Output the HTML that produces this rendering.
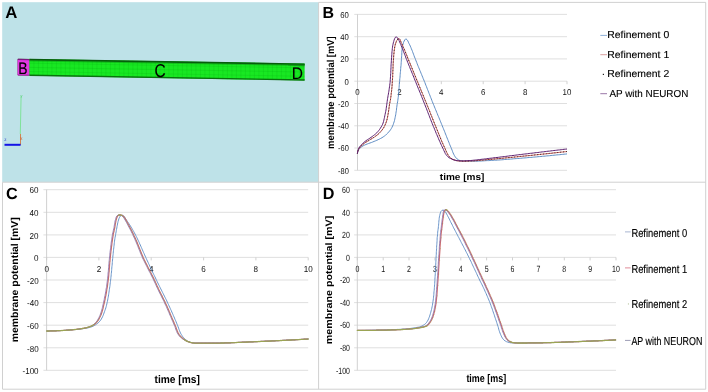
<!DOCTYPE html>
<html lang="en"><head><meta charset="utf-8"><title>Figure</title>
<style>html,body{margin:0;padding:0;background:#fff;overflow:hidden}svg{display:block}text{font-family:'Liberation Sans', Arial, sans-serif;text-rendering:geometricPrecision}</style></head><body>
<svg width="708" height="392" viewBox="0 0 708 392">
<rect x="0" y="0" width="708" height="392" fill="#fff"/>
<rect x="2.2" y="2.2" width="316.4" height="179.9" fill="#bee2e8"/>
<defs><linearGradient id="tg" x1="0" y1="0" x2="0" y2="1"><stop offset="0" stop-color="#0b5f10"/><stop offset="1" stop-color="#0b5f10" stop-opacity="0"/></linearGradient></defs>
<polygon points="17.3,59.7 18.2,58.8 304.6,63.6 304.6,80.5 18.2,75.5 17.3,74.6" fill="#18e822"/>
<polygon points="17.3,59.7 18.2,58.8 29.4,59.0 29.4,75.7 18.2,75.5 17.3,74.6" fill="#e438e4"/>
<path d="M29.4,59.0L29.4,75.7M33.9,59.1L33.9,75.8M38.4,59.2L38.4,75.9M42.9,59.2L42.9,75.9M47.4,59.3L47.4,76.0M51.9,59.4L51.9,76.1M56.4,59.5L56.4,76.2M60.9,59.5L60.9,76.3M65.4,59.6L65.4,76.3M69.9,59.7L69.9,76.4M74.4,59.8L74.4,76.5M78.9,59.8L78.9,76.6M83.4,59.9L83.4,76.7M87.9,60.0L87.9,76.7M92.4,60.1L92.4,76.8M96.9,60.1L96.9,76.9M101.4,60.2L101.4,77.0M105.9,60.3L105.9,77.0M110.4,60.4L110.4,77.1M114.9,60.4L114.9,77.2M119.4,60.5L119.4,77.3M123.9,60.6L123.9,77.4M128.4,60.7L128.4,77.4M132.9,60.7L132.9,77.5M137.4,60.8L137.4,77.6M141.9,60.9L141.9,77.7M146.4,61.0L146.4,77.7M150.9,61.0L150.9,77.8M155.4,61.1L155.4,77.9M159.9,61.2L159.9,78.0M164.4,61.3L164.4,78.1M168.9,61.3L168.9,78.1M173.4,61.4L173.4,78.2M177.9,61.5L177.9,78.3M182.4,61.6L182.4,78.4M186.9,61.6L186.9,78.5M191.4,61.7L191.4,78.5M195.9,61.8L195.9,78.6M200.4,61.9L200.4,78.7M204.9,61.9L204.9,78.8M209.4,62.0L209.4,78.8M213.9,62.1L213.9,78.9M218.4,62.2L218.4,79.0M222.9,62.2L222.9,79.1M227.4,62.3L227.4,79.2M231.9,62.4L231.9,79.2M236.4,62.5L236.4,79.3M240.9,62.5L240.9,79.4M245.4,62.6L245.4,79.5M249.9,62.7L249.9,79.5M254.4,62.8L254.4,79.6M258.9,62.8L258.9,79.7M263.4,62.9L263.4,79.8M267.9,63.0L267.9,79.9M272.4,63.1L272.4,79.9M276.9,63.1L276.9,80.0M281.4,63.2L281.4,80.1M285.9,63.3L285.9,80.2M290.4,63.4L290.4,80.3M294.9,63.4L294.9,80.3M299.4,63.5L299.4,80.4M303.9,63.6L303.9,80.5M29.4,63.2L304.6,67.8M29.4,67.4L304.6,72.0M29.4,71.5L304.6,76.3" stroke="#08a010" stroke-width="0.5" fill="none" opacity="0.35"/>
<path d="M29.4,59.6L304.6,64.2" stroke="#075c0c" stroke-width="1.6" fill="none" opacity="1"/>
<path d="M29.4,60.8L304.6,65.4" stroke="#0a8a12" stroke-width="1.2" fill="none" opacity="0.45"/>
<path d="M29.4,75.2L304.6,80.0" stroke="#086a0e" stroke-width="1.4" fill="none" opacity="0.95"/>
<path d="M288,63.7L304.6,64.0L304.6,66.6L288,65.5Z" fill="#0a7a12" opacity="0.55"/>
<path d="M17.8,59.4L29.4,59.6" stroke="#6a1470" stroke-width="1.3" fill="none" opacity="0.85"/>
<path d="M17.8,75.0L29.4,75.2" stroke="#8a208a" stroke-width="1.0" fill="none" opacity="0.8"/>
<text x="18.3" y="73.7" font-size="16.6" text-anchor="start" font-weight="normal" fill="#000" stroke="#000" stroke-width="0.15" textLength="9.3" lengthAdjust="spacingAndGlyphs" >B</text>
<text x="154.4" y="76.7" font-size="18.6" text-anchor="start" font-weight="normal" fill="#000" stroke="#000" stroke-width="0.12" textLength="11.2" lengthAdjust="spacingAndGlyphs" >C</text>
<text x="291.8" y="78.9" font-size="16.6" text-anchor="start" font-weight="normal" fill="#000" stroke="#000" stroke-width="0.12" textLength="11.2" lengthAdjust="spacingAndGlyphs" >D</text>
<line x1="21.1" y1="95.7" x2="20.3" y2="134" stroke="#7fe39a" stroke-width="1.0"/>
<line x1="20.5" y1="134" x2="20.5" y2="145" stroke="#d07a40" stroke-width="0.9"/>
<line x1="4.5" y1="144.8" x2="20.6" y2="144.8" stroke="#1414e6" stroke-width="2.0"/>
<text x="4.2" y="140.5" font-size="4.5" text-anchor="start" font-weight="normal" fill="#2030d0" >z</text>
<text x="20.0" y="140" font-size="5" text-anchor="start" font-weight="normal" fill="#d06030" >x</text>
<text x="20.5" y="97" font-size="4" text-anchor="start" font-weight="normal" fill="#60d080" >y</text>
<text x="5.3" y="17.8" font-size="16.8" text-anchor="start" font-weight="bold" fill="#000" >A</text>
<line x1="318.6" y1="2.4" x2="705.8" y2="2.4" stroke="#d0d0d0" stroke-width="1"/>
<line x1="705.7" y1="2.4" x2="705.7" y2="389.2" stroke="#d0d0d0" stroke-width="1"/>
<line x1="318.6" y1="2.4" x2="318.6" y2="389.2" stroke="#d0d0d0" stroke-width="1"/>
<line x1="2.5" y1="182.2" x2="705.8" y2="182.2" stroke="#d0d0d0" stroke-width="1"/>
<line x1="2.5" y1="182.2" x2="2.5" y2="389.2" stroke="#d0d0d0" stroke-width="1"/>
<line x1="2.5" y1="389.2" x2="705.8" y2="389.2" stroke="#d0d0d0" stroke-width="1"/>
<line x1="354.3" y1="14.4" x2="567.0" y2="14.4" stroke="#dbdbdb" stroke-width="0.9"/>
<line x1="354.3" y1="36.7" x2="567.0" y2="36.7" stroke="#dbdbdb" stroke-width="0.9"/>
<line x1="354.3" y1="58.9" x2="567.0" y2="58.9" stroke="#dbdbdb" stroke-width="0.9"/>
<line x1="354.3" y1="81.2" x2="567.0" y2="81.2" stroke="#dbdbdb" stroke-width="0.9"/>
<line x1="354.3" y1="103.5" x2="567.0" y2="103.5" stroke="#dbdbdb" stroke-width="0.9"/>
<line x1="354.3" y1="125.8" x2="567.0" y2="125.8" stroke="#dbdbdb" stroke-width="0.9"/>
<line x1="354.3" y1="148.0" x2="567.0" y2="148.0" stroke="#dbdbdb" stroke-width="0.9"/>
<line x1="354.3" y1="170.3" x2="567.0" y2="170.3" stroke="#dbdbdb" stroke-width="0.9"/>
<line x1="357.5" y1="14.4" x2="357.5" y2="170.3" stroke="#cccccc" stroke-width="0.9"/>
<line x1="357.5" y1="81.2" x2="357.5" y2="84.2" stroke="#cccccc" stroke-width="0.9"/>
<text x="355.3" y="95.2" font-size="8.5" text-anchor="start" font-weight="normal" fill="#111" textLength="4.4" lengthAdjust="spacingAndGlyphs" >0</text>
<line x1="399.4" y1="81.2" x2="399.4" y2="84.2" stroke="#cccccc" stroke-width="0.9"/>
<text x="397.2" y="95.2" font-size="8.5" text-anchor="start" font-weight="normal" fill="#111" textLength="4.4" lengthAdjust="spacingAndGlyphs" >2</text>
<line x1="441.3" y1="81.2" x2="441.3" y2="84.2" stroke="#cccccc" stroke-width="0.9"/>
<text x="439.1" y="95.2" font-size="8.5" text-anchor="start" font-weight="normal" fill="#111" textLength="4.4" lengthAdjust="spacingAndGlyphs" >4</text>
<line x1="483.2" y1="81.2" x2="483.2" y2="84.2" stroke="#cccccc" stroke-width="0.9"/>
<text x="481.0" y="95.2" font-size="8.5" text-anchor="start" font-weight="normal" fill="#111" textLength="4.4" lengthAdjust="spacingAndGlyphs" >6</text>
<line x1="525.1" y1="81.2" x2="525.1" y2="84.2" stroke="#cccccc" stroke-width="0.9"/>
<text x="522.9" y="95.2" font-size="8.5" text-anchor="start" font-weight="normal" fill="#111" textLength="4.4" lengthAdjust="spacingAndGlyphs" >8</text>
<line x1="567.0" y1="81.2" x2="567.0" y2="84.2" stroke="#cccccc" stroke-width="0.9"/>
<text x="562.6" y="95.2" font-size="8.5" text-anchor="start" font-weight="normal" fill="#111" textLength="8.8" lengthAdjust="spacingAndGlyphs" >10</text>
<text x="340.2" y="17.8" font-size="8.5" text-anchor="start" font-weight="normal" fill="#111" textLength="8.6" lengthAdjust="spacingAndGlyphs" >60</text>
<text x="340.2" y="40.1" font-size="8.5" text-anchor="start" font-weight="normal" fill="#111" textLength="8.6" lengthAdjust="spacingAndGlyphs" >40</text>
<text x="340.2" y="62.3" font-size="8.5" text-anchor="start" font-weight="normal" fill="#111" textLength="8.6" lengthAdjust="spacingAndGlyphs" >20</text>
<text x="344.5" y="84.6" font-size="8.5" text-anchor="start" font-weight="normal" fill="#111" textLength="4.3" lengthAdjust="spacingAndGlyphs" >0</text>
<text x="338.0" y="106.9" font-size="8.5" text-anchor="start" font-weight="normal" fill="#111" textLength="10.8" lengthAdjust="spacingAndGlyphs" >-20</text>
<text x="338.0" y="129.2" font-size="8.5" text-anchor="start" font-weight="normal" fill="#111" textLength="10.8" lengthAdjust="spacingAndGlyphs" >-40</text>
<text x="338.0" y="151.4" font-size="8.5" text-anchor="start" font-weight="normal" fill="#111" textLength="10.8" lengthAdjust="spacingAndGlyphs" >-60</text>
<text x="338.0" y="173.7" font-size="8.5" text-anchor="start" font-weight="normal" fill="#111" textLength="10.8" lengthAdjust="spacingAndGlyphs" >-80</text>
<text x="322.6" y="17.6" font-size="16.0" text-anchor="start" font-weight="bold" fill="#000" >B</text>
<text x="334.0" y="148.9" font-size="10" text-anchor="start" font-weight="bold" fill="#000" textLength="112.6" lengthAdjust="spacingAndGlyphs" transform="rotate(-90 334.0 148.9)" >membrane potential [mV]</text>
<text x="439.8" y="179.6" font-size="9.4" text-anchor="start" font-weight="bold" fill="#000" textLength="44.6" lengthAdjust="spacingAndGlyphs" >time [ms]</text>
<polyline points="357.4,153.6 357.7,152.1 358.2,150.7 358.8,149.5 359.7,148.4 360.8,147.4 362.0,146.5 363.2,145.8 364.6,145.1 365.9,144.5 367.2,144.0 368.6,143.5 370.0,143.0 371.4,142.5 372.7,142.0 374.1,141.4 375.4,140.9 376.8,140.3 378.1,139.7 379.4,139.1 380.7,138.4 382.0,137.7 383.2,136.9 384.4,136.1 385.6,135.2 386.6,134.2 387.7,133.2 388.6,132.1 389.6,131.0 390.5,129.8 391.3,128.6 392.0,127.3 392.6,126.0 393.2,124.7 393.6,123.3 394.1,121.9 394.5,120.5 394.8,119.1 395.1,117.7 395.4,116.2 395.7,114.8 395.9,113.4 396.1,111.9 396.4,110.5 396.5,109.0 396.7,107.6 396.9,106.1 397.1,104.7 397.3,103.3 397.6,101.8 397.8,100.4 398.0,99.0 398.2,97.5 398.4,96.1 398.5,94.6 398.6,93.2 398.8,91.7 398.9,90.3 399.0,88.8 399.1,87.4 399.2,85.9 399.3,84.5 399.4,83.0 399.6,81.5 399.7,80.1 399.8,78.6 400.0,77.2 400.1,75.7 400.2,74.3 400.3,72.8 400.5,71.4 400.6,69.9 400.7,68.5 400.8,67.0 401.0,65.6 401.1,64.1 401.2,62.7 401.3,61.2 401.4,59.8 401.5,58.3 401.6,56.9 401.7,55.4 401.8,54.0 401.8,52.5 401.9,51.0 402.1,49.6 402.2,48.2 402.4,46.7 402.7,45.3 403.1,43.9 403.5,42.5 404.1,41.1 404.8,39.9 405.8,38.8 406.9,39.6 407.8,40.8 408.4,42.2 409.0,43.5 409.7,44.8 410.3,46.1 410.9,47.5 411.4,48.8 412.0,50.2 412.5,51.5 413.0,52.9 413.5,54.2 414.0,55.6 414.5,57.0 415.1,58.3 415.6,59.7 416.1,61.0 416.7,62.4 417.2,63.8 417.7,65.1 418.3,66.5 418.8,67.8 419.4,69.1 419.9,70.5 420.5,71.8 421.0,73.2 421.6,74.5 422.1,75.9 422.7,77.2 423.2,78.6 423.8,79.9 424.3,81.3 424.9,82.6 425.4,84.0 425.9,85.3 426.5,86.7 427.0,88.1 427.5,89.4 428.1,90.8 428.6,92.1 429.1,93.5 429.7,94.8 430.2,96.2 430.7,97.5 431.3,98.9 431.8,100.3 432.3,101.6 432.9,103.0 433.4,104.3 434.0,105.7 434.5,107.0 435.1,108.4 435.6,109.7 436.2,111.0 436.7,112.4 437.3,113.7 437.8,115.1 438.4,116.4 439.0,117.8 439.5,119.1 440.1,120.5 440.6,121.8 441.2,123.2 441.7,124.5 442.3,125.9 442.8,127.2 443.4,128.6 443.9,129.9 444.5,131.3 445.0,132.6 445.5,134.0 446.1,135.3 446.6,136.7 447.1,138.0 447.7,139.4 448.2,140.7 448.8,142.1 449.3,143.4 449.8,144.8 450.4,146.1 451.0,147.5 451.5,148.8 452.1,150.2 452.6,151.6 453.1,152.9 453.7,154.2 454.4,155.5 455.2,156.8 456.1,157.9 457.1,158.9 458.3,159.8 459.6,160.4 461.0,160.8 462.5,161.0 463.9,161.2 465.4,161.2 466.8,161.3 468.3,161.3 469.7,161.3 471.2,161.3 472.7,161.3 474.1,161.2 475.6,161.2 477.0,161.2 478.5,161.1 479.9,161.0 481.4,161.0 482.8,160.9 484.3,160.8 485.8,160.7 487.2,160.6 488.7,160.6 490.1,160.5 491.6,160.4 493.0,160.3 494.5,160.2 495.9,160.2 497.4,160.1 498.8,160.0 500.3,159.9 501.7,159.8 503.2,159.7 504.6,159.5 506.1,159.4 507.5,159.3 509.0,159.2 510.5,159.1 511.9,159.0 513.4,158.8 514.8,158.7 516.3,158.6 517.7,158.5 519.2,158.4 520.6,158.3 522.1,158.1 523.5,158.0 525.0,157.9 526.4,157.8 527.9,157.6 529.3,157.5 530.8,157.4 532.2,157.3 533.7,157.1 535.1,157.0 536.6,156.9 538.0,156.7 539.5,156.6 540.9,156.5 542.4,156.3 543.8,156.2 545.3,156.1 546.7,155.9 548.2,155.8 549.6,155.7 551.1,155.5 552.5,155.4 554.0,155.2 555.4,155.1 556.9,154.9 558.3,154.8 559.8,154.7 561.2,154.5 562.7,154.4 564.1,154.2 565.6,154.1 567.0,153.9" fill="none" stroke="#4f81bd" stroke-width="0.9" stroke-linejoin="round" />
<polyline points="357.4,153.6 357.6,152.1 358.1,150.7 358.6,149.4 359.3,148.2 360.2,147.0 361.3,145.9 362.3,144.9 363.4,144.0 364.6,143.2 365.8,142.3 367.1,141.5 368.3,140.8 369.5,140.0 370.8,139.3 372.1,138.5 373.3,137.7 374.5,137.0 375.7,136.1 376.9,135.3 378.0,134.3 379.1,133.4 380.1,132.3 381.1,131.2 382.0,130.1 382.9,128.9 383.7,127.7 384.4,126.4 385.0,125.1 385.6,123.8 386.1,122.4 386.6,121.0 387.0,119.6 387.3,118.2 387.6,116.8 387.9,115.3 388.1,113.9 388.4,112.4 388.6,111.0 388.8,109.6 389.0,108.1 389.2,106.7 389.4,105.2 389.6,103.8 389.9,102.4 390.2,100.9 390.5,99.5 390.7,98.1 390.9,96.6 391.1,95.2 391.2,93.7 391.4,92.3 391.6,90.8 391.7,89.4 391.9,87.9 392.0,86.5 392.1,85.0 392.2,83.6 392.3,82.1 392.4,80.7 392.5,79.2 392.6,77.7 392.7,76.3 392.7,74.8 392.8,73.4 392.8,71.9 392.9,70.5 393.0,69.0 393.0,67.5 393.1,66.1 393.1,64.6 393.2,63.2 393.3,61.7 393.4,60.3 393.5,58.8 393.6,57.4 393.7,55.9 393.8,54.4 394.0,53.0 394.1,51.5 394.3,50.1 394.5,48.7 394.7,47.2 395.0,45.8 395.3,44.4 395.8,43.0 396.3,41.6 396.9,40.3 397.8,39.1 399.0,38.4 400.0,39.6 400.6,40.9 401.1,42.3 401.7,43.6 402.3,44.9 402.9,46.3 403.5,47.6 404.1,48.9 404.7,50.3 405.2,51.6 405.8,53.0 406.3,54.3 406.9,55.7 407.4,57.0 407.9,58.4 408.5,59.7 409.0,61.1 409.6,62.4 410.2,63.8 410.7,65.1 411.3,66.5 411.8,67.8 412.4,69.2 412.9,70.5 413.5,71.9 414.0,73.2 414.6,74.6 415.1,75.9 415.7,77.3 416.2,78.6 416.8,80.0 417.3,81.3 417.9,82.7 418.5,84.0 419.0,85.4 419.6,86.7 420.1,88.1 420.7,89.4 421.2,90.7 421.8,92.1 422.4,93.4 422.9,94.8 423.5,96.1 424.0,97.5 424.6,98.8 425.1,100.2 425.7,101.5 426.2,102.9 426.8,104.2 427.3,105.6 427.9,106.9 428.4,108.3 429.0,109.6 429.5,111.0 430.1,112.3 430.6,113.7 431.1,115.1 431.7,116.4 432.2,117.8 432.8,119.1 433.3,120.5 433.8,121.8 434.4,123.2 434.9,124.5 435.5,125.9 436.0,127.2 436.6,128.6 437.1,129.9 437.7,131.3 438.2,132.6 438.8,134.0 439.3,135.3 439.9,136.7 440.4,138.0 441.0,139.4 441.5,140.7 442.1,142.1 442.7,143.4 443.3,144.7 443.9,146.1 444.5,147.4 445.1,148.7 445.7,150.1 446.3,151.5 446.9,152.8 447.6,154.1 448.3,155.4 449.1,156.5 450.2,157.5 451.3,158.4 452.6,159.2 453.9,159.8 455.3,160.3 456.7,160.7 458.1,160.9 459.6,161.0 461.1,161.1 462.5,161.2 464.0,161.2 465.4,161.2 466.9,161.1 468.3,161.1 469.8,161.0 471.3,160.9 472.7,160.9 474.2,160.8 475.6,160.7 477.1,160.6 478.5,160.4 480.0,160.3 481.4,160.2 482.9,160.1 484.3,159.9 485.8,159.8 487.2,159.6 488.7,159.5 490.1,159.4 491.6,159.3 493.0,159.1 494.5,159.0 496.0,158.9 497.4,158.7 498.9,158.6 500.3,158.5 501.8,158.3 503.2,158.2 504.7,158.0 506.1,157.9 507.6,157.7 509.0,157.6 510.5,157.5 511.9,157.3 513.4,157.2 514.8,157.0 516.3,156.9 517.7,156.7 519.2,156.6 520.6,156.4 522.1,156.3 523.5,156.1 525.0,156.0 526.4,155.8 527.9,155.7 529.3,155.6 530.8,155.4 532.2,155.3 533.7,155.1 535.1,154.9 536.6,154.8 538.0,154.6 539.5,154.5 540.9,154.3 542.4,154.2 543.8,154.0 545.3,153.9 546.7,153.7 548.2,153.6 549.6,153.4 551.1,153.3 552.5,153.1 554.0,152.9 555.4,152.8 556.9,152.6 558.3,152.5 559.8,152.3 561.2,152.1 562.7,152.0 564.1,151.8 565.6,151.7 567.0,151.5" fill="none" stroke="#c65650" stroke-width="1.0" stroke-linejoin="round" />
<polyline points="357.4,153.6 357.6,152.1 358.1,150.7 358.6,149.4 359.3,148.2 360.2,147.0 361.3,145.9 362.3,144.9 363.4,144.0 364.6,143.2 365.8,142.3 367.1,141.5 368.3,140.8 369.5,140.0 370.8,139.3 372.1,138.5 373.3,137.7 374.5,137.0 375.7,136.1 376.9,135.3 378.0,134.3 379.1,133.4 380.1,132.3 381.1,131.2 382.0,130.1 382.9,128.9 383.7,127.7 384.4,126.4 385.0,125.1 385.6,123.8 386.1,122.4 386.6,121.0 387.0,119.6 387.3,118.2 387.6,116.8 387.9,115.3 388.1,113.9 388.4,112.4 388.6,111.0 388.8,109.6 389.0,108.1 389.2,106.7 389.4,105.2 389.6,103.8 389.9,102.4 390.2,100.9 390.5,99.5 390.7,98.1 390.9,96.6 391.1,95.2 391.2,93.7 391.4,92.3 391.6,90.8 391.7,89.4 391.9,87.9 392.0,86.5 392.1,85.0 392.2,83.6 392.3,82.1 392.4,80.7 392.5,79.2 392.6,77.7 392.7,76.3 392.7,74.8 392.8,73.4 392.8,71.9 392.9,70.5 393.0,69.0 393.0,67.5 393.1,66.1 393.1,64.6 393.2,63.2 393.3,61.7 393.4,60.3 393.5,58.8 393.6,57.4 393.7,55.9 393.8,54.4 394.0,53.0 394.1,51.5 394.3,50.1 394.5,48.7 394.7,47.2 395.0,45.8 395.3,44.4 395.8,43.0 396.3,41.6 396.9,40.3 397.8,39.1 399.0,38.4 400.0,39.6 400.6,40.9 401.1,42.3 401.7,43.6 402.3,44.9 402.9,46.3 403.5,47.6 404.1,48.9 404.7,50.3 405.2,51.6 405.8,53.0 406.3,54.3 406.9,55.7 407.4,57.0 407.9,58.4 408.5,59.7 409.0,61.1 409.6,62.4 410.2,63.8 410.7,65.1 411.3,66.5 411.8,67.8 412.4,69.2 412.9,70.5 413.5,71.9 414.0,73.2 414.6,74.6 415.1,75.9 415.7,77.3 416.2,78.6 416.8,80.0 417.3,81.3 417.9,82.7 418.5,84.0 419.0,85.4 419.6,86.7 420.1,88.1 420.7,89.4 421.2,90.7 421.8,92.1 422.4,93.4 422.9,94.8 423.5,96.1 424.0,97.5 424.6,98.8 425.1,100.2 425.7,101.5 426.2,102.9 426.8,104.2 427.3,105.6 427.9,106.9 428.4,108.3 429.0,109.6 429.5,111.0 430.1,112.3 430.6,113.7 431.1,115.1 431.7,116.4 432.2,117.8 432.8,119.1 433.3,120.5 433.8,121.8 434.4,123.2 434.9,124.5 435.5,125.9 436.0,127.2 436.6,128.6 437.1,129.9 437.7,131.3 438.2,132.6 438.8,134.0 439.3,135.3 439.9,136.7 440.4,138.0 441.0,139.4 441.5,140.7 442.1,142.1 442.7,143.4 443.3,144.7 443.9,146.1 444.5,147.4 445.1,148.7 445.7,150.1 446.3,151.5 446.9,152.8 447.6,154.1 448.3,155.4 449.1,156.5 450.2,157.5 451.3,158.4 452.6,159.2 453.9,159.8 455.3,160.3 456.7,160.7 458.1,160.9 459.6,161.0 461.1,161.1 462.5,161.2 464.0,161.2 465.4,161.2 466.9,161.1 468.3,161.1 469.8,161.0 471.3,160.9 472.7,160.9 474.2,160.8 475.6,160.7 477.1,160.6 478.5,160.4 480.0,160.3 481.4,160.2 482.9,160.1 484.3,159.9 485.8,159.8 487.2,159.6 488.7,159.5 490.1,159.4 491.6,159.3 493.0,159.1 494.5,159.0 496.0,158.9 497.4,158.7 498.9,158.6 500.3,158.5 501.8,158.3 503.2,158.2 504.7,158.0 506.1,157.9 507.6,157.7 509.0,157.6 510.5,157.5 511.9,157.3 513.4,157.2 514.8,157.0 516.3,156.9 517.7,156.7 519.2,156.6 520.6,156.4 522.1,156.3 523.5,156.1 525.0,156.0 526.4,155.8 527.9,155.7 529.3,155.6 530.8,155.4 532.2,155.3 533.7,155.1 535.1,154.9 536.6,154.8 538.0,154.6 539.5,154.5 540.9,154.3 542.4,154.2 543.8,154.0 545.3,153.9 546.7,153.7 548.2,153.6 549.6,153.4 551.1,153.3 552.5,153.1 554.0,152.9 555.4,152.8 556.9,152.6 558.3,152.5 559.8,152.3 561.2,152.1 562.7,152.0 564.1,151.8 565.6,151.7 567.0,151.5" fill="none" stroke="#111" stroke-width="0.9" stroke-linejoin="round" stroke-dasharray="0.9 2.0" opacity="0.85"/>
<polyline points="357.4,153.6 357.6,152.1 357.9,150.6 358.4,149.3 358.9,148.0 359.7,146.7 360.7,145.5 361.7,144.4 362.7,143.4 363.8,142.5 365.0,141.5 366.1,140.6 367.3,139.8 368.6,139.0 369.8,138.2 371.0,137.4 372.2,136.5 373.4,135.6 374.6,134.7 375.7,133.8 376.8,132.8 377.8,131.7 378.7,130.6 379.6,129.4 380.4,128.2 381.2,126.9 381.9,125.7 382.6,124.3 383.1,123.0 383.5,121.6 383.9,120.1 384.2,118.7 384.5,117.3 384.8,115.8 385.1,114.4 385.4,112.9 385.7,111.5 386.0,110.0 386.2,108.6 386.4,107.1 386.6,105.7 386.8,104.2 387.0,102.8 387.2,101.3 387.4,99.9 387.6,98.4 387.9,97.0 388.1,95.5 388.4,94.1 388.6,92.6 388.9,91.2 389.1,89.7 389.3,88.2 389.5,86.8 389.7,85.3 389.9,83.9 390.1,82.4 390.2,81.0 390.3,79.5 390.4,78.0 390.5,76.6 390.6,75.1 390.7,73.6 390.8,72.2 390.8,70.7 390.9,69.2 391.0,67.8 391.0,66.3 391.1,64.8 391.2,63.4 391.3,61.9 391.4,60.4 391.5,59.0 391.6,57.5 391.7,56.0 391.8,54.5 391.9,53.1 392.0,51.6 392.2,50.2 392.3,48.7 392.5,47.2 392.7,45.8 393.0,44.3 393.3,42.9 393.7,41.5 394.1,40.1 394.6,38.7 395.4,37.3 396.4,36.8 397.5,38.0 398.3,39.2 399.0,40.5 399.6,41.9 400.2,43.2 400.8,44.6 401.3,45.9 401.9,47.3 402.4,48.6 403.0,50.0 403.5,51.4 404.0,52.8 404.6,54.1 405.1,55.5 405.6,56.9 406.1,58.3 406.7,59.6 407.2,61.0 407.7,62.4 408.3,63.7 408.8,65.1 409.4,66.4 409.9,67.8 410.5,69.2 411.0,70.5 411.6,71.9 412.2,73.3 412.7,74.6 413.3,76.0 413.8,77.3 414.4,78.7 414.9,80.1 415.5,81.4 416.0,82.8 416.6,84.1 417.1,85.5 417.7,86.9 418.2,88.2 418.8,89.6 419.4,91.0 419.9,92.3 420.5,93.7 421.0,95.0 421.6,96.4 422.1,97.8 422.7,99.1 423.2,100.5 423.7,101.9 424.3,103.2 424.8,104.6 425.4,106.0 425.9,107.3 426.5,108.7 427.0,110.1 427.5,111.4 428.0,112.8 428.6,114.2 429.1,115.5 429.6,116.9 430.2,118.3 430.7,119.7 431.2,121.0 431.8,122.4 432.3,123.8 432.9,125.1 433.4,126.5 434.0,127.8 434.6,129.2 435.1,130.6 435.7,131.9 436.2,133.3 436.8,134.6 437.4,136.0 438.0,137.3 438.5,138.7 439.1,140.0 439.7,141.4 440.3,142.7 440.9,144.1 441.5,145.4 442.1,146.7 442.8,148.1 443.4,149.4 444.0,150.8 444.7,152.1 445.3,153.5 446.1,154.7 447.0,155.8 448.0,156.8 449.2,157.8 450.5,158.5 451.8,159.1 453.1,159.7 454.6,160.1 456.0,160.4 457.5,160.6 458.9,160.8 460.4,160.9 461.9,160.9 463.3,160.9 464.8,160.8 466.3,160.7 467.7,160.6 469.2,160.5 470.7,160.5 472.1,160.4 473.6,160.2 475.1,160.1 476.5,159.9 478.0,159.8 479.4,159.6 480.9,159.4 482.4,159.2 483.8,159.1 485.3,158.9 486.7,158.7 488.2,158.5 489.7,158.3 491.1,158.2 492.6,158.0 494.0,157.8 495.5,157.6 497.0,157.5 498.4,157.3 499.9,157.1 501.3,156.9 502.8,156.7 504.3,156.6 505.7,156.4 507.2,156.2 508.6,156.0 510.1,155.8 511.5,155.6 513.0,155.5 514.5,155.3 515.9,155.1 517.4,154.9 518.8,154.7 520.3,154.6 521.8,154.4 523.2,154.2 524.7,154.0 526.1,153.9 527.6,153.7 529.1,153.5 530.5,153.3 532.0,153.2 533.4,153.0 534.9,152.8 536.3,152.6 537.8,152.5 539.3,152.3 540.7,152.1 542.2,151.9 543.6,151.8 545.1,151.6 546.6,151.4 548.0,151.2 549.5,151.1 550.9,150.9 552.4,150.7 553.9,150.5 555.3,150.4 556.8,150.2 558.2,150.0 559.7,149.9 561.2,149.7 562.6,149.5 564.1,149.3 565.5,149.2 567.0,149.0" fill="none" stroke="#5e2070" stroke-width="1.0" stroke-linejoin="round" />
<line x1="600.3" y1="35.4" x2="607" y2="35.4" stroke="#8fb0d8" stroke-width="1.0"/>
<text x="607.2" y="38.4" font-size="10.1" text-anchor="start" font-weight="normal" fill="#000" stroke="#000" stroke-width="0.12" textLength="62" lengthAdjust="spacingAndGlyphs" >Refinement 0</text>
<line x1="600.3" y1="54.7" x2="607" y2="54.7" stroke="#dba0a0" stroke-width="1.0"/>
<text x="607.2" y="57.7" font-size="10.1" text-anchor="start" font-weight="normal" fill="#000" stroke="#000" stroke-width="0.12" textLength="62" lengthAdjust="spacingAndGlyphs" >Refinement 1</text>
<rect x="602.8" y="73.80000000000001" width="1.2" height="1.2" fill="#222"/>
<text x="607.2" y="77.4" font-size="10.1" text-anchor="start" font-weight="normal" fill="#000" stroke="#000" stroke-width="0.12" textLength="62" lengthAdjust="spacingAndGlyphs" >Refinement 2</text>
<line x1="600.3" y1="93.7" x2="607" y2="93.7" stroke="#9a78a8" stroke-width="1.0"/>
<text x="609.5" y="96.7" font-size="10.1" text-anchor="start" font-weight="normal" fill="#000" stroke="#000" stroke-width="0.12" textLength="78.8" lengthAdjust="spacingAndGlyphs" >AP with NEURON</text>
<line x1="43.4" y1="189.7" x2="308.2" y2="189.7" stroke="#dbdbdb" stroke-width="0.9"/>
<line x1="43.4" y1="212.3" x2="308.2" y2="212.3" stroke="#dbdbdb" stroke-width="0.9"/>
<line x1="43.4" y1="234.9" x2="308.2" y2="234.9" stroke="#dbdbdb" stroke-width="0.9"/>
<line x1="43.4" y1="257.4" x2="308.2" y2="257.4" stroke="#dbdbdb" stroke-width="0.9"/>
<line x1="43.4" y1="280.0" x2="308.2" y2="280.0" stroke="#dbdbdb" stroke-width="0.9"/>
<line x1="43.4" y1="302.6" x2="308.2" y2="302.6" stroke="#dbdbdb" stroke-width="0.9"/>
<line x1="43.4" y1="325.2" x2="308.2" y2="325.2" stroke="#dbdbdb" stroke-width="0.9"/>
<line x1="43.4" y1="347.8" x2="308.2" y2="347.8" stroke="#dbdbdb" stroke-width="0.9"/>
<line x1="43.4" y1="370.3" x2="308.2" y2="370.3" stroke="#dbdbdb" stroke-width="0.9"/>
<line x1="46.6" y1="189.7" x2="46.6" y2="370.3" stroke="#cccccc" stroke-width="0.9"/>
<line x1="46.6" y1="257.4" x2="46.6" y2="260.4" stroke="#cccccc" stroke-width="0.9"/>
<text x="44.4" y="271.8" font-size="8.6" text-anchor="start" font-weight="normal" fill="#111" textLength="4.5" lengthAdjust="spacingAndGlyphs" >0</text>
<line x1="98.9" y1="257.4" x2="98.9" y2="260.4" stroke="#cccccc" stroke-width="0.9"/>
<text x="96.7" y="271.8" font-size="8.6" text-anchor="start" font-weight="normal" fill="#111" textLength="4.5" lengthAdjust="spacingAndGlyphs" >2</text>
<line x1="151.2" y1="257.4" x2="151.2" y2="260.4" stroke="#cccccc" stroke-width="0.9"/>
<text x="149.0" y="271.8" font-size="8.6" text-anchor="start" font-weight="normal" fill="#111" textLength="4.5" lengthAdjust="spacingAndGlyphs" >4</text>
<line x1="203.6" y1="257.4" x2="203.6" y2="260.4" stroke="#cccccc" stroke-width="0.9"/>
<text x="201.3" y="271.8" font-size="8.6" text-anchor="start" font-weight="normal" fill="#111" textLength="4.5" lengthAdjust="spacingAndGlyphs" >6</text>
<line x1="255.9" y1="257.4" x2="255.9" y2="260.4" stroke="#cccccc" stroke-width="0.9"/>
<text x="253.6" y="271.8" font-size="8.6" text-anchor="start" font-weight="normal" fill="#111" textLength="4.5" lengthAdjust="spacingAndGlyphs" >8</text>
<line x1="308.2" y1="257.4" x2="308.2" y2="260.4" stroke="#cccccc" stroke-width="0.9"/>
<text x="303.7" y="271.8" font-size="8.6" text-anchor="start" font-weight="normal" fill="#111" textLength="9.0" lengthAdjust="spacingAndGlyphs" >10</text>
<text x="29.6" y="193.4" font-size="8.6" text-anchor="start" font-weight="normal" fill="#111" textLength="9.0" lengthAdjust="spacingAndGlyphs" >60</text>
<text x="29.6" y="216.0" font-size="8.6" text-anchor="start" font-weight="normal" fill="#111" textLength="9.0" lengthAdjust="spacingAndGlyphs" >40</text>
<text x="29.6" y="238.6" font-size="8.6" text-anchor="start" font-weight="normal" fill="#111" textLength="9.0" lengthAdjust="spacingAndGlyphs" >20</text>
<text x="34.1" y="261.1" font-size="8.6" text-anchor="start" font-weight="normal" fill="#111" textLength="4.5" lengthAdjust="spacingAndGlyphs" >0</text>
<text x="27.0" y="283.7" font-size="8.6" text-anchor="start" font-weight="normal" fill="#111" textLength="11.6" lengthAdjust="spacingAndGlyphs" >-20</text>
<text x="27.0" y="306.3" font-size="8.6" text-anchor="start" font-weight="normal" fill="#111" textLength="11.6" lengthAdjust="spacingAndGlyphs" >-40</text>
<text x="27.0" y="328.9" font-size="8.6" text-anchor="start" font-weight="normal" fill="#111" textLength="11.6" lengthAdjust="spacingAndGlyphs" >-60</text>
<text x="27.0" y="351.5" font-size="8.6" text-anchor="start" font-weight="normal" fill="#111" textLength="11.6" lengthAdjust="spacingAndGlyphs" >-80</text>
<text x="22.5" y="374.0" font-size="8.6" text-anchor="start" font-weight="normal" fill="#111" textLength="16.1" lengthAdjust="spacingAndGlyphs" >-100</text>
<text x="6.0" y="198.6" font-size="16.2" text-anchor="start" font-weight="bold" fill="#000" >C</text>
<text x="18.1" y="342.3" font-size="10" text-anchor="start" font-weight="bold" fill="#000" textLength="125.1" lengthAdjust="spacingAndGlyphs" transform="rotate(-90 18.1 342.3)" >membrane potential [mV]</text>
<text x="154.5" y="382.5" font-size="11" text-anchor="start" font-weight="bold" fill="#000" textLength="45.4" lengthAdjust="spacingAndGlyphs" >time [ms]</text>
<polyline points="46.6,331.0 47.9,331.0 49.3,331.0 50.6,330.9 52.0,330.9 53.3,330.8 54.7,330.8 56.0,330.8 57.4,330.7 58.7,330.7 60.1,330.6 61.4,330.5 62.7,330.5 64.1,330.4 65.4,330.3 66.8,330.2 68.1,330.1 69.5,330.0 70.8,329.9 72.1,329.8 73.5,329.7 74.8,329.6 76.2,329.5 77.5,329.4 78.8,329.2 80.2,329.1 81.5,328.9 82.9,328.7 84.2,328.5 85.5,328.3 86.8,328.1 88.2,327.8 89.5,327.4 90.8,327.1 92.0,326.6 93.3,326.1 94.5,325.5 95.6,324.8 96.7,324.0 97.8,323.2 98.8,322.3 99.7,321.3 100.6,320.2 101.3,319.1 101.9,318.0 102.5,316.8 103.1,315.5 103.6,314.2 104.0,313.0 104.5,311.7 104.9,310.5 105.4,309.2 105.8,307.9 106.2,306.6 106.5,305.3 106.8,304.0 107.1,302.7 107.4,301.4 107.7,300.0 107.9,298.7 108.2,297.4 108.4,296.1 108.6,294.8 108.8,293.4 109.0,292.1 109.2,290.8 109.4,289.4 109.6,288.1 109.8,286.7 110.0,285.4 110.1,284.1 110.3,282.7 110.5,281.4 110.6,280.1 110.8,278.7 110.9,277.4 111.1,276.0 111.2,274.7 111.3,273.4 111.5,272.0 111.6,270.7 111.7,269.4 111.8,268.0 111.9,266.7 112.1,265.3 112.2,264.0 112.3,262.6 112.4,261.3 112.5,260.0 112.7,258.6 112.8,257.3 112.9,255.9 113.1,254.6 113.2,253.3 113.3,251.9 113.5,250.6 113.6,249.2 113.8,247.9 113.9,246.6 114.1,245.2 114.2,243.9 114.4,242.6 114.5,241.2 114.7,239.9 114.9,238.6 115.1,237.2 115.4,235.9 115.6,234.6 115.8,233.3 116.1,231.9 116.3,230.6 116.5,229.3 116.8,228.0 117.0,226.6 117.3,225.3 117.5,224.0 117.8,222.7 118.1,221.4 118.5,220.1 118.9,218.8 119.5,217.4 120.1,216.2 121.1,215.6 122.5,215.2 123.6,215.8 124.5,216.8 125.2,218.0 125.9,219.2 126.7,220.3 127.4,221.4 128.2,222.5 128.9,223.6 129.7,224.8 130.4,225.9 131.1,227.1 131.8,228.2 132.5,229.4 133.1,230.5 133.8,231.7 134.4,232.9 135.1,234.1 135.7,235.3 136.3,236.5 136.9,237.7 137.5,238.9 138.0,240.1 138.6,241.3 139.2,242.5 139.7,243.8 140.3,245.0 140.8,246.2 141.4,247.5 141.9,248.7 142.4,249.9 143.0,251.2 143.5,252.4 144.1,253.6 144.6,254.9 145.2,256.1 145.7,257.3 146.3,258.5 146.8,259.8 147.4,261.0 148.0,262.2 148.5,263.4 149.1,264.6 149.7,265.9 150.2,267.1 150.8,268.3 151.4,269.5 152.0,270.7 152.5,272.0 153.1,273.2 153.7,274.4 154.3,275.6 154.9,276.8 155.5,278.0 156.0,279.2 156.6,280.4 157.2,281.7 157.8,282.9 158.4,284.1 159.0,285.3 159.6,286.5 160.2,287.7 160.8,288.9 161.4,290.1 162.0,291.3 162.6,292.5 163.2,293.7 163.8,294.9 164.4,296.1 165.0,297.3 165.6,298.5 166.2,299.7 166.8,300.9 167.3,302.2 167.9,303.4 168.5,304.6 169.0,305.8 169.6,307.1 170.2,308.3 170.7,309.5 171.3,310.7 171.8,312.0 172.4,313.2 172.9,314.4 173.4,315.7 174.0,316.9 174.5,318.1 175.0,319.4 175.6,320.6 176.1,321.8 176.6,323.1 177.1,324.3 177.6,325.6 178.1,326.8 178.6,328.1 179.0,329.4 179.5,330.7 180.0,331.9 180.5,333.1 181.2,334.3 181.9,335.4 182.7,336.6 183.6,337.6 184.5,338.6 185.5,339.5 186.5,340.3 187.7,341.1 188.9,341.7 190.1,342.2 191.4,342.5 192.7,342.8 194.1,343.0 195.4,343.1 196.8,343.1 198.1,343.1 199.5,343.1 200.8,343.1 202.2,343.1 203.5,343.1 204.9,343.1 206.2,343.1 207.5,343.1 208.9,343.1 210.2,343.1 211.6,343.1 212.9,343.1 214.3,343.1 215.6,343.1 217.0,343.1 218.3,343.1 219.7,343.1 221.0,343.0 222.4,343.0 223.7,343.0 225.1,342.9 226.4,342.9 227.7,342.9 229.1,342.8 230.4,342.8 231.8,342.7 233.1,342.6 234.5,342.6 235.8,342.5 237.2,342.5 238.5,342.4 239.8,342.3 241.2,342.3 242.5,342.2 243.9,342.2 245.2,342.1 246.6,342.0 247.9,342.0 249.3,341.9 250.6,341.9 251.9,341.8 253.3,341.8 254.6,341.7 256.0,341.7 257.3,341.6 258.7,341.5 260.0,341.5 261.4,341.4 262.7,341.4 264.0,341.3 265.4,341.2 266.7,341.2 268.1,341.1 269.4,341.1 270.8,341.0 272.1,340.9 273.5,340.9 274.8,340.8 276.1,340.7 277.5,340.7 278.8,340.6 280.2,340.5 281.5,340.5 282.9,340.4 284.2,340.3 285.6,340.3 286.9,340.2 288.2,340.1 289.6,340.1 290.9,340.0 292.3,339.9 293.6,339.8 295.0,339.8 296.3,339.7 297.7,339.6 299.0,339.5 300.3,339.5 301.7,339.4 303.0,339.3 304.4,339.2 305.7,339.2 307.1,339.1 308.4,339.0" fill="none" stroke="#5b8ac4" stroke-width="0.9" stroke-linejoin="round" />
<polyline points="46.6,331.0 47.9,331.0 49.3,331.0 50.6,330.9 52.0,330.9 53.3,330.9 54.7,330.8 56.0,330.8 57.4,330.7 58.7,330.7 60.1,330.6 61.4,330.5 62.8,330.5 64.1,330.4 65.5,330.3 66.8,330.2 68.2,330.1 69.5,330.0 70.9,329.9 72.2,329.8 73.5,329.6 74.9,329.5 76.2,329.4 77.6,329.2 78.9,329.0 80.2,328.8 81.6,328.6 82.9,328.4 84.2,328.2 85.5,327.9 86.9,327.6 88.2,327.2 89.5,326.8 90.8,326.3 92.1,325.7 93.4,325.0 94.6,324.2 95.6,323.3 96.6,322.3 97.5,321.2 98.3,320.1 99.0,318.9 99.6,317.7 100.2,316.5 100.8,315.3 101.3,314.0 101.7,312.8 102.1,311.5 102.5,310.2 102.9,308.9 103.2,307.6 103.5,306.2 103.8,304.9 104.1,303.6 104.4,302.3 104.7,301.0 105.0,299.7 105.2,298.3 105.5,297.0 105.8,295.7 106.0,294.4 106.3,293.0 106.5,291.7 106.7,290.4 106.9,289.0 107.2,287.7 107.4,286.4 107.6,285.0 107.7,283.7 107.9,282.4 108.1,281.0 108.3,279.7 108.4,278.4 108.6,277.0 108.7,275.7 108.8,274.3 108.9,273.0 109.1,271.6 109.2,270.3 109.3,269.0 109.4,267.6 109.5,266.3 109.6,264.9 109.7,263.6 109.8,262.2 110.0,260.9 110.1,259.5 110.2,258.2 110.4,256.9 110.5,255.5 110.6,254.2 110.8,252.8 110.9,251.5 111.1,250.2 111.3,248.8 111.4,247.5 111.6,246.1 111.8,244.8 111.9,243.5 112.1,242.1 112.3,240.8 112.5,239.4 112.7,238.1 112.9,236.8 113.1,235.4 113.3,234.1 113.6,232.8 113.9,231.5 114.2,230.2 114.5,228.8 114.8,227.5 115.0,226.2 115.2,224.9 115.4,223.5 115.7,222.2 115.9,220.9 116.3,219.6 116.6,218.3 117.1,217.0 117.8,215.8 118.9,215.1 120.2,214.9 121.6,215.2 122.7,215.8 123.7,216.7 124.6,217.8 125.3,218.9 126.0,220.1 126.6,221.3 127.3,222.5 127.9,223.6 128.5,224.8 129.2,226.0 129.8,227.2 130.4,228.4 131.1,229.6 131.7,230.8 132.3,232.0 132.9,233.2 133.5,234.4 134.0,235.7 134.6,236.9 135.2,238.1 135.7,239.3 136.2,240.6 136.8,241.8 137.3,243.1 137.8,244.3 138.3,245.6 138.8,246.8 139.3,248.1 139.8,249.3 140.3,250.6 140.8,251.8 141.3,253.1 141.8,254.3 142.3,255.6 142.9,256.8 143.4,258.0 144.0,259.3 144.6,260.5 145.2,261.7 145.8,262.9 146.4,264.1 147.0,265.3 147.6,266.5 148.2,267.7 148.8,268.9 149.4,270.1 150.0,271.3 150.7,272.5 151.3,273.7 151.9,274.9 152.5,276.1 153.1,277.3 153.7,278.5 154.3,279.8 154.9,281.0 155.4,282.2 156.0,283.4 156.6,284.7 157.1,285.9 157.7,287.1 158.2,288.3 158.8,289.6 159.4,290.8 160.0,292.0 160.6,293.2 161.2,294.4 161.8,295.6 162.4,296.8 163.0,298.0 163.6,299.2 164.2,300.4 164.8,301.6 165.4,302.9 165.9,304.1 166.5,305.3 167.1,306.5 167.6,307.8 168.2,309.0 168.7,310.2 169.2,311.5 169.8,312.7 170.3,314.0 170.8,315.2 171.4,316.4 171.9,317.7 172.4,318.9 173.0,320.2 173.5,321.4 174.0,322.6 174.5,323.9 175.1,325.1 175.6,326.4 176.1,327.7 176.5,329.0 177.0,330.3 177.5,331.5 178.0,332.8 178.7,333.9 179.4,335.0 180.2,336.0 181.2,337.0 182.2,337.9 183.2,338.8 184.3,339.5 185.3,340.2 186.5,340.9 187.6,341.5 188.8,341.9 190.0,342.3 191.2,342.6 192.5,342.9 193.8,343.0 195.2,343.1 196.5,343.1 197.9,343.1 199.2,343.1 200.6,343.1 201.9,343.1 203.3,343.1 204.6,343.1 206.0,343.1 207.3,343.1 208.7,343.1 210.0,343.1 211.4,343.1 212.7,343.1 214.1,343.1 215.4,343.1 216.8,343.1 218.1,343.1 219.5,343.1 220.8,343.0 222.2,343.0 223.5,343.0 224.9,342.9 226.2,342.9 227.6,342.9 228.9,342.8 230.3,342.8 231.6,342.7 232.9,342.7 234.3,342.6 235.6,342.5 237.0,342.5 238.3,342.4 239.7,342.4 241.0,342.3 242.4,342.2 243.7,342.2 245.1,342.1 246.4,342.1 247.8,342.0 249.1,341.9 250.5,341.9 251.8,341.8 253.2,341.8 254.5,341.7 255.9,341.7 257.2,341.6 258.6,341.5 259.9,341.5 261.3,341.4 262.6,341.4 263.9,341.3 265.3,341.2 266.6,341.2 268.0,341.1 269.3,341.1 270.7,341.0 272.0,340.9 273.4,340.9 274.7,340.8 276.1,340.7 277.4,340.7 278.8,340.6 280.1,340.5 281.5,340.5 282.8,340.4 284.2,340.3 285.5,340.3 286.8,340.2 288.2,340.1 289.5,340.1 290.9,340.0 292.2,339.9 293.6,339.8 294.9,339.8 296.3,339.7 297.6,339.6 299.0,339.5 300.3,339.5 301.7,339.4 303.0,339.3 304.4,339.2 305.7,339.2 307.1,339.1 308.4,339.0" fill="none" stroke="#cc6a6c" stroke-width="1.2" stroke-linejoin="round" />
<polyline points="46.6,331.0 47.9,331.0 49.3,331.0 50.6,330.9 52.0,330.9 53.3,330.9 54.7,330.8 56.0,330.8 57.4,330.7 58.7,330.7 60.1,330.6 61.4,330.5 62.8,330.5 64.1,330.4 65.5,330.3 66.8,330.2 68.2,330.1 69.5,330.0 70.9,329.9 72.2,329.8 73.5,329.6 74.9,329.5 76.2,329.4 77.6,329.2 78.9,329.0 80.2,328.8 81.6,328.6 82.9,328.4 84.2,328.2 85.5,327.9 86.9,327.6 88.2,327.2 89.5,326.8 90.7,326.3 91.9,325.7 93.1,325.0 94.1,324.2 95.1,323.3 96.0,322.3 96.8,321.2 97.6,320.1 98.2,318.9 98.9,317.7 99.4,316.5 100.0,315.3 100.5,314.0 100.9,312.8 101.3,311.5 101.7,310.2 102.1,308.9 102.4,307.6 102.7,306.2 103.0,304.9 103.3,303.6 103.6,302.3 103.9,301.0 104.2,299.7 104.4,298.3 104.7,297.0 105.0,295.7 105.2,294.4 105.5,293.0 105.7,291.7 105.9,290.4 106.1,289.0 106.4,287.7 106.6,286.4 106.8,285.0 106.9,283.7 107.1,282.4 107.3,281.0 107.5,279.7 107.6,278.4 107.8,277.0 107.9,275.7 108.0,274.3 108.1,273.0 108.3,271.6 108.4,270.3 108.5,269.0 108.6,267.6 108.7,266.3 108.8,264.9 108.9,263.6 109.0,262.2 109.2,260.9 109.3,259.5 109.4,258.2 109.6,256.9 109.7,255.5 109.8,254.2 110.0,252.8 110.1,251.5 110.3,250.2 110.5,248.8 110.6,247.5 110.8,246.1 111.0,244.8 111.1,243.5 111.3,242.1 111.5,240.8 111.7,239.4 111.9,238.1 112.1,236.8 112.3,235.4 112.5,234.1 112.8,232.8 113.1,231.5 113.4,230.2 113.7,228.8 114.0,227.5 114.2,226.2 114.4,224.9 114.6,223.5 114.9,222.2 115.1,220.9 115.5,219.6 115.8,218.3 116.3,217.0 117.0,215.8 118.1,215.1 119.4,214.9 120.8,215.2 121.9,215.8 122.9,216.7 123.8,217.8 124.5,218.9 125.2,220.1 125.8,221.3 126.5,222.5 127.1,223.6 127.7,224.8 128.4,226.0 129.0,227.2 129.6,228.4 130.3,229.6 130.9,230.8 131.5,232.0 132.1,233.2 132.7,234.4 133.2,235.7 133.8,236.9 134.4,238.1 134.9,239.3 135.4,240.6 136.0,241.8 136.5,243.1 137.0,244.3 137.5,245.6 138.0,246.8 138.5,248.1 139.0,249.3 139.5,250.6 140.0,251.8 140.5,253.1 141.0,254.3 141.5,255.6 142.1,256.8 142.6,258.0 143.2,259.3 143.8,260.5 144.4,261.7 145.0,262.9 145.6,264.1 146.2,265.3 146.8,266.5 147.4,267.7 148.0,268.9 148.6,270.1 149.2,271.3 149.9,272.5 150.5,273.7 151.1,274.9 151.7,276.1 152.3,277.3 152.9,278.5 153.5,279.8 154.1,281.0 154.6,282.2 155.2,283.4 155.8,284.7 156.3,285.9 156.9,287.1 157.4,288.3 158.0,289.6 158.6,290.8 159.2,292.0 159.8,293.2 160.4,294.4 161.0,295.6 161.6,296.8 162.2,298.0 162.8,299.2 163.4,300.4 164.0,301.6 164.6,302.9 165.1,304.1 165.7,305.3 166.3,306.5 166.8,307.8 167.4,309.0 167.9,310.2 168.4,311.5 169.0,312.7 169.5,314.0 170.0,315.2 170.6,316.4 171.1,317.7 171.6,318.9 172.2,320.2 172.7,321.4 173.2,322.6 173.7,323.9 174.3,325.1 174.8,326.4 175.3,327.7 175.7,329.0 176.2,330.3 176.7,331.5 177.2,332.8 177.9,333.9 178.6,335.0 179.4,336.0 180.4,337.0 181.4,337.9 182.5,338.8 183.6,339.5 184.8,340.2 186.0,340.9 187.3,341.5 188.5,341.9 189.8,342.3 191.1,342.6 192.5,342.9 193.8,343.0 195.2,343.1 196.5,343.1 197.9,343.1 199.2,343.1 200.6,343.1 201.9,343.1 203.3,343.1 204.6,343.1 206.0,343.1 207.3,343.1 208.7,343.1 210.0,343.1 211.4,343.1 212.7,343.1 214.1,343.1 215.4,343.1 216.8,343.1 218.1,343.1 219.5,343.1 220.8,343.0 222.2,343.0 223.5,343.0 224.9,342.9 226.2,342.9 227.6,342.9 228.9,342.8 230.3,342.8 231.6,342.7 232.9,342.7 234.3,342.6 235.6,342.5 237.0,342.5 238.3,342.4 239.7,342.4 241.0,342.3 242.4,342.2 243.7,342.2 245.1,342.1 246.4,342.1 247.8,342.0 249.1,341.9 250.5,341.9 251.8,341.8 253.2,341.8 254.5,341.7 255.9,341.7 257.2,341.6 258.6,341.5 259.9,341.5 261.3,341.4 262.6,341.4 263.9,341.3 265.3,341.2 266.6,341.2 268.0,341.1 269.3,341.1 270.7,341.0 272.0,340.9 273.4,340.9 274.7,340.8 276.1,340.7 277.4,340.7 278.8,340.6 280.1,340.5 281.5,340.5 282.8,340.4 284.2,340.3 285.5,340.3 286.8,340.2 288.2,340.1 289.5,340.1 290.9,340.0 292.2,339.9 293.6,339.8 294.9,339.8 296.3,339.7 297.6,339.6 299.0,339.5 300.3,339.5 301.7,339.4 303.0,339.3 304.4,339.2 305.7,339.2 307.1,339.1 308.4,339.0" fill="none" stroke="#9078b0" stroke-width="1.0" stroke-linejoin="round" opacity="0.9"/>
<path d="M46.6,331.0h0M47.4,331.0h0M48.2,331.0h0M49.0,331.0h0M49.8,330.9h0M50.6,330.9h0M51.4,330.9h0M52.2,330.9h0M53.0,330.9h0M53.8,330.8h0M54.6,330.8h0M55.4,330.8h0M56.2,330.8h0M57.0,330.7h0M57.8,330.7h0M58.6,330.7h0M59.4,330.6h0M60.2,330.6h0M61.0,330.6h0M61.8,330.5h0M62.6,330.5h0M63.4,330.4h0M64.2,330.4h0M65.0,330.3h0M65.8,330.3h0M66.6,330.2h0M67.4,330.2h0M68.2,330.1h0M69.0,330.0h0M69.8,330.0h0M70.6,329.9h0M71.4,329.8h0M72.2,329.8h0M73.0,329.7h0M73.8,329.6h0M74.6,329.5h0M75.4,329.5h0M76.2,329.4h0M77.0,329.3h0M77.8,329.2h0M78.6,329.1h0M79.4,329.0h0M80.2,328.9h0M81.0,328.7h0M81.8,328.6h0M82.6,328.5h0M83.4,328.3h0M84.2,328.2h0M85.0,328.0h0M85.8,327.8h0M86.6,327.6h0M87.4,327.4h0M88.2,327.2h0M89.0,327.0h0M89.8,326.7h0M90.6,326.4h0M91.4,326.0h0M92.2,325.7h0M93.0,325.2h0M93.8,324.7h0M118.6,215.2h0M119.4,215.0h0M120.2,214.9h0M121.0,215.1h0M121.8,215.4h0M184.2,339.5h0M185.0,340.0h0M185.8,340.5h0M186.6,341.0h0M187.4,341.4h0M188.2,341.7h0M189.0,342.0h0M189.8,342.2h0M190.6,342.4h0M191.4,342.6h0M192.2,342.8h0M193.0,342.9h0M193.8,343.0h0M194.6,343.1h0M195.4,343.1h0M196.2,343.1h0M197.0,343.1h0M197.8,343.1h0M198.6,343.1h0M199.4,343.1h0M200.2,343.1h0M201.0,343.1h0M201.8,343.1h0M202.6,343.1h0M203.4,343.1h0M204.2,343.1h0M205.0,343.1h0M205.8,343.1h0M206.6,343.1h0M207.4,343.1h0M208.2,343.1h0M209.0,343.1h0M209.8,343.1h0M210.6,343.1h0M211.4,343.1h0M212.2,343.1h0M213.0,343.1h0M213.8,343.1h0M214.6,343.1h0M215.4,343.1h0M216.2,343.1h0M217.0,343.1h0M217.8,343.1h0M218.6,343.1h0M219.4,343.1h0M220.2,343.1h0M221.0,343.0h0M221.8,343.0h0M222.6,343.0h0M223.4,343.0h0M224.2,343.0h0M225.0,342.9h0M225.8,342.9h0M226.6,342.9h0M227.4,342.9h0M228.2,342.8h0M229.0,342.8h0M229.8,342.8h0M230.6,342.8h0M231.4,342.7h0M232.2,342.7h0M233.0,342.7h0M233.8,342.6h0M234.6,342.6h0M235.4,342.6h0M236.2,342.5h0M237.0,342.5h0M237.8,342.4h0M238.6,342.4h0M239.4,342.4h0M240.2,342.3h0M241.0,342.3h0M241.8,342.3h0M242.6,342.2h0M243.4,342.2h0M244.2,342.1h0M245.0,342.1h0M245.8,342.1h0M246.6,342.0h0M247.4,342.0h0M248.2,342.0h0M249.0,341.9h0M249.8,341.9h0M250.6,341.9h0M251.4,341.8h0M252.2,341.8h0M253.0,341.8h0M253.8,341.7h0M254.6,341.7h0M255.4,341.7h0M256.2,341.6h0M257.0,341.6h0M257.8,341.6h0M258.6,341.5h0M259.4,341.5h0M260.2,341.5h0M261.0,341.4h0M261.8,341.4h0M262.6,341.4h0M263.4,341.3h0M264.2,341.3h0M265.0,341.3h0M265.8,341.2h0M266.6,341.2h0M267.4,341.2h0M268.2,341.1h0M269.0,341.1h0M269.8,341.0h0M270.6,341.0h0M271.4,341.0h0M272.2,340.9h0M273.0,340.9h0M273.8,340.9h0M274.6,340.8h0M275.4,340.8h0M276.2,340.7h0M277.0,340.7h0M277.8,340.7h0M278.6,340.6h0M279.4,340.6h0M280.2,340.5h0M281.0,340.5h0M281.8,340.5h0M282.6,340.4h0M283.4,340.4h0M284.2,340.3h0M285.0,340.3h0M285.8,340.3h0M286.6,340.2h0M287.4,340.2h0M288.2,340.1h0M289.0,340.1h0M289.8,340.0h0M290.6,340.0h0M291.4,340.0h0M292.2,339.9h0M293.0,339.9h0M293.8,339.8h0M294.6,339.8h0M295.4,339.7h0M296.2,339.7h0M297.0,339.7h0M297.8,339.6h0M298.6,339.6h0M299.4,339.5h0M300.2,339.5h0M301.0,339.4h0M301.8,339.4h0M302.6,339.3h0M303.4,339.3h0M304.2,339.2h0M305.0,339.2h0M305.8,339.2h0M306.6,339.1h0M307.4,339.1h0M308.2,339.0h0" fill="none" stroke="#9aa84e" stroke-width="1.3" stroke-linecap="round" opacity="0.92"/>
<path d="M94.6,324.1h0M95.4,323.5h0M96.2,322.7h0M97.0,321.7h0M97.8,320.7h0M98.6,319.4h0M99.4,318.0h0M100.2,316.4h0M101.0,314.4h0M101.8,312.1h0M102.6,309.4h0M103.4,306.4h0M104.2,302.9h0M105.0,299.0h0M105.8,295.0h0M106.6,290.5h0M107.4,285.4h0M108.2,279.3h0M109.0,271.1h0M109.8,261.5h0M110.6,253.7h0M111.4,246.8h0M112.2,240.7h0M113.0,235.4h0M113.8,231.4h0M114.6,227.8h0M115.4,223.2h0M116.2,219.4h0M117.0,217.0h0M117.8,215.7h0M122.6,215.8h0M123.4,216.5h0M124.2,217.4h0M125.0,218.6h0M125.8,219.9h0M126.6,221.4h0M127.4,222.9h0M128.2,224.4h0M129.0,225.9h0M129.8,227.4h0M130.6,228.9h0M131.4,230.5h0M132.2,232.0h0M133.0,233.7h0M133.8,235.3h0M134.6,237.1h0M135.4,238.9h0M136.2,240.7h0M137.0,242.6h0M137.8,244.6h0M138.6,246.6h0M139.4,248.6h0M140.2,250.6h0M141.0,252.6h0M141.8,254.5h0M142.6,256.4h0M143.4,258.2h0M144.2,259.9h0M145.0,261.6h0M145.8,263.2h0M146.6,264.8h0M147.4,266.4h0M148.2,267.9h0M149.0,269.5h0M149.8,271.0h0M150.6,272.6h0M151.4,274.1h0M152.2,275.7h0M153.0,277.3h0M153.8,279.0h0M154.6,280.6h0M155.4,282.3h0M156.2,284.1h0M157.0,285.9h0M157.8,287.6h0M158.6,289.4h0M159.4,291.0h0M160.2,292.7h0M161.0,294.3h0M161.8,295.8h0M162.6,297.4h0M163.4,299.0h0M164.2,300.6h0M165.0,302.3h0M165.8,304.0h0M166.6,305.8h0M167.4,307.5h0M168.2,309.3h0M169.0,311.2h0M169.8,313.0h0M170.6,314.9h0M171.4,316.7h0M172.2,318.6h0M173.0,320.5h0M173.8,322.4h0M174.6,324.3h0M175.4,326.2h0M176.2,328.4h0M177.0,330.5h0M177.8,332.4h0M178.6,334.0h0M179.4,335.1h0M180.2,336.1h0M181.0,336.9h0M181.8,337.6h0M182.6,338.3h0M183.4,338.9h0" fill="none" stroke="#9aa84e" stroke-width="1.04" stroke-linecap="round" opacity="0.45"/>
<line x1="354.1" y1="189.7" x2="616.0" y2="189.7" stroke="#dbdbdb" stroke-width="0.9"/>
<line x1="354.1" y1="212.3" x2="616.0" y2="212.3" stroke="#dbdbdb" stroke-width="0.9"/>
<line x1="354.1" y1="234.9" x2="616.0" y2="234.9" stroke="#dbdbdb" stroke-width="0.9"/>
<line x1="354.1" y1="257.4" x2="616.0" y2="257.4" stroke="#dbdbdb" stroke-width="0.9"/>
<line x1="354.1" y1="280.0" x2="616.0" y2="280.0" stroke="#dbdbdb" stroke-width="0.9"/>
<line x1="354.1" y1="302.6" x2="616.0" y2="302.6" stroke="#dbdbdb" stroke-width="0.9"/>
<line x1="354.1" y1="325.2" x2="616.0" y2="325.2" stroke="#dbdbdb" stroke-width="0.9"/>
<line x1="354.1" y1="347.8" x2="616.0" y2="347.8" stroke="#dbdbdb" stroke-width="0.9"/>
<line x1="354.1" y1="370.3" x2="616.0" y2="370.3" stroke="#dbdbdb" stroke-width="0.9"/>
<line x1="357.3" y1="189.7" x2="357.3" y2="370.3" stroke="#cccccc" stroke-width="0.9"/>
<line x1="357.3" y1="257.4" x2="357.3" y2="260.4" stroke="#cccccc" stroke-width="0.9"/>
<text x="355.4" y="272.0" font-size="9.0" text-anchor="start" font-weight="normal" fill="#111" textLength="3.9" lengthAdjust="spacingAndGlyphs" >0</text>
<line x1="383.2" y1="257.4" x2="383.2" y2="260.4" stroke="#cccccc" stroke-width="0.9"/>
<text x="381.2" y="272.0" font-size="9.0" text-anchor="start" font-weight="normal" fill="#111" textLength="3.9" lengthAdjust="spacingAndGlyphs" >1</text>
<line x1="409.0" y1="257.4" x2="409.0" y2="260.4" stroke="#cccccc" stroke-width="0.9"/>
<text x="407.1" y="272.0" font-size="9.0" text-anchor="start" font-weight="normal" fill="#111" textLength="3.9" lengthAdjust="spacingAndGlyphs" >2</text>
<line x1="434.9" y1="257.4" x2="434.9" y2="260.4" stroke="#cccccc" stroke-width="0.9"/>
<text x="433.0" y="272.0" font-size="9.0" text-anchor="start" font-weight="normal" fill="#111" textLength="3.9" lengthAdjust="spacingAndGlyphs" >3</text>
<line x1="460.8" y1="257.4" x2="460.8" y2="260.4" stroke="#cccccc" stroke-width="0.9"/>
<text x="458.8" y="272.0" font-size="9.0" text-anchor="start" font-weight="normal" fill="#111" textLength="3.9" lengthAdjust="spacingAndGlyphs" >4</text>
<line x1="486.6" y1="257.4" x2="486.6" y2="260.4" stroke="#cccccc" stroke-width="0.9"/>
<text x="484.7" y="272.0" font-size="9.0" text-anchor="start" font-weight="normal" fill="#111" textLength="3.9" lengthAdjust="spacingAndGlyphs" >5</text>
<line x1="512.5" y1="257.4" x2="512.5" y2="260.4" stroke="#cccccc" stroke-width="0.9"/>
<text x="510.6" y="272.0" font-size="9.0" text-anchor="start" font-weight="normal" fill="#111" textLength="3.9" lengthAdjust="spacingAndGlyphs" >6</text>
<line x1="538.4" y1="257.4" x2="538.4" y2="260.4" stroke="#cccccc" stroke-width="0.9"/>
<text x="536.4" y="272.0" font-size="9.0" text-anchor="start" font-weight="normal" fill="#111" textLength="3.9" lengthAdjust="spacingAndGlyphs" >7</text>
<line x1="564.3" y1="257.4" x2="564.3" y2="260.4" stroke="#cccccc" stroke-width="0.9"/>
<text x="562.3" y="272.0" font-size="9.0" text-anchor="start" font-weight="normal" fill="#111" textLength="3.9" lengthAdjust="spacingAndGlyphs" >8</text>
<line x1="590.1" y1="257.4" x2="590.1" y2="260.4" stroke="#cccccc" stroke-width="0.9"/>
<text x="588.2" y="272.0" font-size="9.0" text-anchor="start" font-weight="normal" fill="#111" textLength="3.9" lengthAdjust="spacingAndGlyphs" >9</text>
<line x1="616.0" y1="257.4" x2="616.0" y2="260.4" stroke="#cccccc" stroke-width="0.9"/>
<text x="612.1" y="272.0" font-size="9.0" text-anchor="start" font-weight="normal" fill="#111" textLength="7.8" lengthAdjust="spacingAndGlyphs" >10</text>
<text x="342.1" y="192.9" font-size="9.0" text-anchor="start" font-weight="normal" fill="#111" textLength="7.8" lengthAdjust="spacingAndGlyphs" >60</text>
<text x="342.1" y="215.5" font-size="9.0" text-anchor="start" font-weight="normal" fill="#111" textLength="7.8" lengthAdjust="spacingAndGlyphs" >40</text>
<text x="342.1" y="238.1" font-size="9.0" text-anchor="start" font-weight="normal" fill="#111" textLength="7.8" lengthAdjust="spacingAndGlyphs" >20</text>
<text x="346.0" y="260.6" font-size="9.0" text-anchor="start" font-weight="normal" fill="#111" textLength="3.9" lengthAdjust="spacingAndGlyphs" >0</text>
<text x="339.9" y="283.2" font-size="9.0" text-anchor="start" font-weight="normal" fill="#111" textLength="10.0" lengthAdjust="spacingAndGlyphs" >-20</text>
<text x="339.9" y="305.8" font-size="9.0" text-anchor="start" font-weight="normal" fill="#111" textLength="10.0" lengthAdjust="spacingAndGlyphs" >-40</text>
<text x="339.9" y="328.4" font-size="9.0" text-anchor="start" font-weight="normal" fill="#111" textLength="10.0" lengthAdjust="spacingAndGlyphs" >-60</text>
<text x="339.9" y="351.0" font-size="9.0" text-anchor="start" font-weight="normal" fill="#111" textLength="10.0" lengthAdjust="spacingAndGlyphs" >-80</text>
<text x="336.0" y="373.5" font-size="9.0" text-anchor="start" font-weight="normal" fill="#111" textLength="13.9" lengthAdjust="spacingAndGlyphs" >-100</text>
<text x="322.8" y="198.6" font-size="16.2" text-anchor="start" font-weight="bold" fill="#000" >D</text>
<text x="332.3" y="344.2" font-size="9.4" text-anchor="start" font-weight="bold" fill="#000" textLength="128.5" lengthAdjust="spacingAndGlyphs" transform="rotate(-90 332.3 344.2)" >membrane potential [mV]</text>
<text x="466.4" y="382.1" font-size="11" text-anchor="start" font-weight="bold" fill="#000" textLength="39.8" lengthAdjust="spacingAndGlyphs" >time [ms]</text>
<polyline points="357.3,330.4 358.7,330.4 360.1,330.4 361.5,330.4 362.9,330.4 364.2,330.4 365.6,330.3 367.0,330.3 368.4,330.3 369.8,330.3 371.2,330.3 372.6,330.2 374.0,330.2 375.3,330.2 376.7,330.2 378.1,330.1 379.5,330.1 380.9,330.1 382.3,330.0 383.7,330.0 385.1,330.0 386.5,329.9 387.8,329.9 389.2,329.8 390.6,329.8 392.0,329.7 393.4,329.6 394.8,329.6 396.2,329.5 397.5,329.4 398.9,329.4 400.3,329.3 401.7,329.2 403.1,329.1 404.5,329.0 405.9,328.9 407.2,328.8 408.6,328.6 410.0,328.5 411.4,328.3 412.8,328.1 414.1,327.9 415.5,327.7 416.9,327.4 418.3,327.2 419.6,326.9 420.9,326.5 422.2,325.9 423.4,325.2 424.6,324.4 425.6,323.5 426.5,322.5 427.3,321.3 428.0,320.1 428.6,318.8 429.1,317.5 429.6,316.2 430.0,314.9 430.4,313.6 430.8,312.2 431.1,310.9 431.5,309.5 431.8,308.2 432.1,306.8 432.4,305.4 432.6,304.1 432.8,302.7 433.0,301.3 433.2,300.0 433.4,298.6 433.5,297.2 433.7,295.8 433.8,294.5 433.9,293.1 434.0,291.7 434.2,290.3 434.3,288.9 434.4,287.5 434.5,286.1 434.6,284.7 434.7,283.4 434.8,282.0 434.9,280.6 434.9,279.2 435.0,277.8 435.1,276.4 435.2,275.0 435.3,273.7 435.3,272.3 435.4,270.9 435.5,269.5 435.6,268.1 435.6,266.7 435.7,265.3 435.8,264.0 435.8,262.6 435.9,261.2 436.0,259.8 436.0,258.4 436.1,257.0 436.2,255.6 436.3,254.2 436.3,252.9 436.4,251.5 436.5,250.1 436.6,248.7 436.6,247.3 436.7,245.9 436.8,244.5 436.9,243.2 437.0,241.8 437.1,240.4 437.1,239.0 437.2,237.6 437.4,236.2 437.5,234.8 437.6,233.5 437.7,232.1 437.9,230.7 438.1,229.3 438.3,228.0 438.4,226.6 438.6,225.2 438.7,223.8 438.8,222.4 438.9,221.0 439.1,219.7 439.2,218.3 439.4,216.9 439.7,215.5 440.0,214.2 440.4,212.8 440.9,211.5 441.8,210.5 443.1,210.0 444.2,210.7 445.3,211.8 446.0,212.9 446.7,214.1 447.4,215.4 448.0,216.6 448.7,217.8 449.3,219.1 449.9,220.3 450.5,221.6 451.1,222.8 451.8,224.0 452.4,225.3 453.0,226.5 453.6,227.8 454.3,229.0 454.9,230.2 455.6,231.5 456.2,232.7 456.8,233.9 457.5,235.1 458.1,236.4 458.8,237.6 459.4,238.8 460.1,240.1 460.7,241.3 461.3,242.5 462.0,243.8 462.6,245.0 463.3,246.2 463.9,247.5 464.5,248.7 465.2,249.9 465.8,251.2 466.4,252.4 467.1,253.6 467.7,254.9 468.3,256.1 468.9,257.4 469.5,258.6 470.1,259.9 470.8,261.1 471.4,262.4 471.9,263.6 472.5,264.9 473.1,266.1 473.7,267.4 474.3,268.6 474.9,269.9 475.5,271.2 476.1,272.4 476.7,273.7 477.2,274.9 477.8,276.2 478.4,277.4 479.0,278.7 479.6,280.0 480.2,281.2 480.8,282.4 481.5,283.7 482.1,284.9 482.7,286.2 483.3,287.4 483.9,288.7 484.5,289.9 485.0,291.2 485.6,292.5 486.2,293.7 486.7,295.0 487.3,296.3 487.8,297.6 488.4,298.9 488.9,300.1 489.4,301.4 489.9,302.7 490.4,304.0 490.9,305.3 491.3,306.6 491.8,307.9 492.3,309.2 492.7,310.6 493.2,311.9 493.6,313.2 494.1,314.5 494.5,315.8 494.9,317.1 495.4,318.5 495.8,319.8 496.3,321.1 496.7,322.4 497.1,323.7 497.5,325.1 498.0,326.4 498.4,327.7 498.7,329.1 499.1,330.4 499.5,331.7 500.0,333.0 500.5,334.3 501.1,335.6 501.7,336.9 502.4,338.1 503.2,339.2 504.1,340.2 505.3,341.0 506.5,341.7 507.8,342.1 509.2,342.5 510.5,342.8 511.9,342.9 513.3,342.9 514.7,343.0 516.1,343.0 517.5,343.0 518.9,343.0 520.3,343.0 521.6,343.0 523.0,343.0 524.4,343.0 525.8,343.0 527.2,343.0 528.6,342.9 530.0,342.9 531.4,342.9 532.8,342.9 534.1,342.9 535.5,342.9 536.9,342.8 538.3,342.8 539.7,342.8 541.1,342.8 542.5,342.8 543.9,342.7 545.2,342.7 546.6,342.7 548.0,342.6 549.4,342.6 550.8,342.6 552.2,342.5 553.6,342.5 555.0,342.4 556.3,342.4 557.7,342.4 559.1,342.3 560.5,342.3 561.9,342.2 563.3,342.1 564.7,342.1 566.1,342.0 567.5,342.0 568.8,341.9 570.2,341.9 571.6,341.8 573.0,341.8 574.4,341.7 575.8,341.7 577.2,341.6 578.6,341.6 579.9,341.5 581.3,341.4 582.7,341.4 584.1,341.3 585.5,341.3 586.9,341.2 588.3,341.2 589.6,341.1 591.0,341.1 592.4,341.0 593.8,340.9 595.2,340.9 596.6,340.8 598.0,340.8 599.4,340.7 600.7,340.6 602.1,340.6 603.5,340.5 604.9,340.4 606.3,340.4 607.7,340.3 609.1,340.2 610.5,340.2 611.8,340.1 613.2,340.0 614.6,340.0 616.0,339.9" fill="none" stroke="#5b8ac4" stroke-width="0.9" stroke-linejoin="round" />
<polyline points="357.3,330.4 358.7,330.4 360.1,330.4 361.5,330.4 362.9,330.4 364.2,330.4 365.6,330.4 367.0,330.4 368.4,330.3 369.8,330.3 371.2,330.3 372.6,330.3 374.0,330.3 375.4,330.3 376.8,330.2 378.1,330.2 379.5,330.2 380.9,330.2 382.3,330.2 383.7,330.1 385.1,330.1 386.5,330.1 387.9,330.0 389.3,330.0 390.7,330.0 392.0,329.9 393.4,329.9 394.8,329.8 396.2,329.8 397.6,329.7 399.0,329.6 400.4,329.6 401.8,329.5 403.1,329.4 404.5,329.4 405.9,329.3 407.3,329.2 408.7,329.1 410.1,329.0 411.5,328.8 412.9,328.7 414.3,328.5 415.7,328.4 417.1,328.1 418.5,327.9 419.9,327.7 421.3,327.4 422.7,327.1 424.1,326.8 425.4,326.4 426.5,325.9 427.7,325.0 428.7,324.0 429.6,322.9 430.4,321.8 431.1,320.6 431.8,319.3 432.4,318.1 432.9,316.8 433.3,315.5 433.7,314.1 434.1,312.8 434.4,311.5 434.8,310.1 435.0,308.7 435.3,307.3 435.6,306.0 435.8,304.6 436.0,303.2 436.2,301.8 436.3,300.5 436.5,299.1 436.6,297.7 436.8,296.3 436.9,294.9 437.0,293.6 437.1,292.2 437.2,290.8 437.3,289.4 437.4,288.0 437.5,286.6 437.6,285.2 437.7,283.8 437.8,282.4 437.9,281.1 438.0,279.7 438.1,278.3 438.2,276.9 438.3,275.5 438.4,274.1 438.5,272.7 438.6,271.3 438.6,270.0 438.7,268.6 438.8,267.2 438.9,265.8 439.0,264.4 439.0,263.0 439.1,261.6 439.2,260.3 439.3,258.9 439.4,257.5 439.5,256.1 439.6,254.7 439.7,253.3 439.8,251.9 439.9,250.5 440.0,249.2 440.0,247.8 440.1,246.4 440.2,245.0 440.3,243.6 440.4,242.2 440.6,240.8 440.7,239.5 440.8,238.1 440.9,236.7 441.0,235.3 441.1,233.9 441.3,232.5 441.4,231.2 441.6,229.8 441.8,228.4 442.0,227.0 442.1,225.6 442.3,224.3 442.5,222.9 442.6,221.5 442.8,220.1 443.0,218.7 443.2,217.4 443.4,216.0 443.6,214.6 443.8,213.2 444.1,211.9 444.6,210.6 445.6,209.6 446.8,210.2 447.9,211.1 448.8,212.1 449.6,213.3 450.4,214.4 451.2,215.6 451.9,216.8 452.6,218.0 453.3,219.2 454.0,220.4 454.6,221.6 455.3,222.8 455.9,224.1 456.5,225.3 457.2,226.6 457.8,227.8 458.5,229.0 459.2,230.2 459.8,231.4 460.5,232.7 461.1,233.9 461.8,235.1 462.4,236.4 463.0,237.6 463.7,238.8 464.3,240.1 464.9,241.3 465.5,242.6 466.1,243.8 466.7,245.1 467.3,246.3 468.0,247.6 468.6,248.8 469.2,250.1 469.8,251.3 470.4,252.6 471.0,253.8 471.6,255.1 472.1,256.3 472.7,257.6 473.3,258.9 473.9,260.1 474.5,261.4 475.1,262.6 475.7,263.9 476.3,265.2 476.8,266.4 477.4,267.7 478.0,269.0 478.6,270.2 479.1,271.5 479.7,272.7 480.3,274.0 480.9,275.3 481.5,276.5 482.0,277.8 482.6,279.1 483.2,280.3 483.8,281.6 484.4,282.8 485.0,284.1 485.6,285.4 486.1,286.6 486.7,287.9 487.3,289.1 487.9,290.4 488.5,291.7 489.0,292.9 489.6,294.2 490.1,295.5 490.7,296.8 491.3,298.0 491.8,299.3 492.3,300.6 492.9,301.9 493.4,303.2 493.9,304.5 494.4,305.8 494.9,307.1 495.3,308.4 495.8,309.7 496.3,311.0 496.8,312.3 497.2,313.6 497.7,314.9 498.2,316.2 498.6,317.5 499.1,318.8 499.5,320.2 500.0,321.5 500.5,322.8 500.9,324.1 501.4,325.4 501.8,326.7 502.2,328.1 502.7,329.4 503.1,330.7 503.6,332.0 504.1,333.3 504.6,334.6 505.2,335.9 505.8,337.2 506.5,338.4 507.3,339.5 508.2,340.4 509.4,341.2 510.6,341.9 511.9,342.4 513.2,342.6 514.6,342.8 516.0,342.9 517.4,343.0 518.8,343.0 520.2,343.0 521.5,343.0 522.9,343.0 524.3,343.0 525.7,343.0 527.1,343.0 528.5,342.9 529.9,342.9 531.3,342.9 532.7,342.9 534.1,342.9 535.5,342.9 536.8,342.8 538.2,342.8 539.6,342.8 541.0,342.8 542.4,342.8 543.8,342.7 545.2,342.7 546.6,342.7 548.0,342.6 549.3,342.6 550.7,342.6 552.1,342.5 553.5,342.5 554.9,342.4 556.3,342.4 557.7,342.4 559.1,342.3 560.5,342.3 561.8,342.2 563.2,342.2 564.6,342.1 566.0,342.0 567.4,342.0 568.8,341.9 570.2,341.9 571.6,341.8 573.0,341.8 574.3,341.7 575.7,341.7 577.1,341.6 578.5,341.6 579.9,341.5 581.3,341.5 582.7,341.4 584.1,341.3 585.5,341.3 586.8,341.2 588.2,341.2 589.6,341.1 591.0,341.1 592.4,341.0 593.8,340.9 595.2,340.9 596.6,340.8 598.0,340.8 599.3,340.7 600.7,340.6 602.1,340.6 603.5,340.5 604.9,340.4 606.3,340.4 607.7,340.3 609.1,340.2 610.4,340.2 611.8,340.1 613.2,340.0 614.6,340.0 616.0,339.9" fill="none" stroke="#cc6a6c" stroke-width="1.2" stroke-linejoin="round" />
<polyline points="357.3,330.4 358.7,330.4 360.1,330.4 361.5,330.4 362.9,330.4 364.2,330.4 365.6,330.4 367.0,330.4 368.4,330.3 369.8,330.3 371.2,330.3 372.6,330.3 374.0,330.3 375.4,330.3 376.8,330.2 378.1,330.2 379.5,330.2 380.9,330.2 382.3,330.2 383.7,330.1 385.1,330.1 386.5,330.1 387.9,330.0 389.3,330.0 390.7,330.0 392.0,329.9 393.4,329.9 394.8,329.8 396.2,329.8 397.6,329.7 399.0,329.6 400.4,329.6 401.8,329.5 403.1,329.4 404.5,329.4 405.9,329.3 407.3,329.2 408.6,329.1 410.0,329.0 411.3,328.8 412.6,328.7 413.9,328.5 415.3,328.4 416.6,328.1 417.9,327.9 419.2,327.7 420.6,327.4 422.0,327.1 423.4,326.8 424.7,326.4 425.8,325.9 427.0,325.0 428.0,324.0 428.9,322.9 429.7,321.8 430.4,320.6 431.1,319.3 431.7,318.1 432.2,316.8 432.6,315.5 433.0,314.1 433.4,312.8 433.7,311.5 434.1,310.1 434.3,308.7 434.6,307.3 434.9,306.0 435.1,304.6 435.3,303.2 435.5,301.8 435.6,300.5 435.8,299.1 435.9,297.7 436.1,296.3 436.2,294.9 436.3,293.6 436.4,292.2 436.5,290.8 436.6,289.4 436.7,288.0 436.8,286.6 436.9,285.2 437.0,283.8 437.1,282.4 437.2,281.1 437.3,279.7 437.4,278.3 437.5,276.9 437.6,275.5 437.7,274.1 437.8,272.7 437.9,271.3 437.9,270.0 438.0,268.6 438.1,267.2 438.2,265.8 438.3,264.4 438.3,263.0 438.4,261.6 438.5,260.3 438.6,258.9 438.7,257.5 438.8,256.1 438.9,254.7 439.0,253.3 439.1,251.9 439.2,250.5 439.3,249.2 439.3,247.8 439.4,246.4 439.5,245.0 439.6,243.6 439.7,242.2 439.9,240.8 440.0,239.5 440.1,238.1 440.2,236.7 440.3,235.3 440.4,233.9 440.6,232.5 440.7,231.2 440.9,229.8 441.1,228.4 441.3,227.0 441.4,225.6 441.6,224.3 441.8,222.9 441.9,221.5 442.1,220.1 442.3,218.7 442.5,217.4 442.7,216.0 442.9,214.6 443.1,213.2 443.4,211.9 443.9,210.6 444.9,209.6 446.1,210.2 447.2,211.1 448.1,212.1 448.9,213.3 449.7,214.4 450.5,215.6 451.2,216.8 451.9,218.0 452.6,219.2 453.3,220.4 453.9,221.6 454.6,222.8 455.2,224.1 455.8,225.3 456.5,226.6 457.1,227.8 457.8,229.0 458.5,230.2 459.1,231.4 459.8,232.7 460.4,233.9 461.1,235.1 461.7,236.4 462.3,237.6 463.0,238.8 463.6,240.1 464.2,241.3 464.8,242.6 465.4,243.8 466.0,245.1 466.6,246.3 467.3,247.6 467.9,248.8 468.5,250.1 469.1,251.3 469.7,252.6 470.3,253.8 470.9,255.1 471.4,256.3 472.0,257.6 472.6,258.9 473.2,260.1 473.8,261.4 474.4,262.6 475.0,263.9 475.6,265.2 476.1,266.4 476.7,267.7 477.3,269.0 477.9,270.2 478.4,271.5 479.0,272.7 479.6,274.0 480.2,275.3 480.8,276.5 481.3,277.8 481.9,279.1 482.5,280.3 483.1,281.6 483.7,282.8 484.3,284.1 484.9,285.4 485.4,286.6 486.0,287.9 486.6,289.1 487.2,290.4 487.8,291.7 488.3,292.9 488.9,294.2 489.4,295.5 490.0,296.8 490.6,298.0 491.1,299.3 491.6,300.6 492.2,301.9 492.7,303.2 493.2,304.5 493.7,305.8 494.2,307.1 494.6,308.4 495.1,309.7 495.6,311.0 496.1,312.3 496.5,313.6 497.0,314.9 497.5,316.2 497.9,317.5 498.4,318.8 498.8,320.2 499.3,321.5 499.8,322.8 500.2,324.1 500.7,325.4 501.1,326.7 501.5,328.1 502.0,329.4 502.4,330.7 502.9,332.0 503.4,333.3 503.9,334.6 504.6,335.9 505.2,337.2 506.0,338.4 506.8,339.5 507.8,340.4 509.1,341.2 510.4,341.9 511.8,342.4 513.2,342.6 514.6,342.8 516.0,342.9 517.4,343.0 518.8,343.0 520.2,343.0 521.5,343.0 522.9,343.0 524.3,343.0 525.7,343.0 527.1,343.0 528.5,342.9 529.9,342.9 531.3,342.9 532.7,342.9 534.1,342.9 535.5,342.9 536.8,342.8 538.2,342.8 539.6,342.8 541.0,342.8 542.4,342.8 543.8,342.7 545.2,342.7 546.6,342.7 548.0,342.6 549.3,342.6 550.7,342.6 552.1,342.5 553.5,342.5 554.9,342.4 556.3,342.4 557.7,342.4 559.1,342.3 560.5,342.3 561.8,342.2 563.2,342.2 564.6,342.1 566.0,342.0 567.4,342.0 568.8,341.9 570.2,341.9 571.6,341.8 573.0,341.8 574.3,341.7 575.7,341.7 577.1,341.6 578.5,341.6 579.9,341.5 581.3,341.5 582.7,341.4 584.1,341.3 585.5,341.3 586.8,341.2 588.2,341.2 589.6,341.1 591.0,341.1 592.4,341.0 593.8,340.9 595.2,340.9 596.6,340.8 598.0,340.8 599.3,340.7 600.7,340.6 602.1,340.6 603.5,340.5 604.9,340.4 606.3,340.4 607.7,340.3 609.1,340.2 610.4,340.2 611.8,340.1 613.2,340.0 614.6,340.0 616.0,339.9" fill="none" stroke="#9078b0" stroke-width="1.0" stroke-linejoin="round" opacity="0.9"/>
<path d="M357.3,330.4h0M358.1,330.4h0M358.9,330.4h0M359.7,330.4h0M360.5,330.4h0M361.3,330.4h0M362.1,330.4h0M362.9,330.4h0M363.7,330.4h0M364.5,330.4h0M365.3,330.4h0M366.1,330.4h0M366.9,330.4h0M367.7,330.3h0M368.5,330.3h0M369.3,330.3h0M370.1,330.3h0M370.9,330.3h0M371.7,330.3h0M372.5,330.3h0M373.3,330.3h0M374.1,330.3h0M374.9,330.3h0M375.7,330.3h0M376.5,330.2h0M377.3,330.2h0M378.1,330.2h0M378.9,330.2h0M379.7,330.2h0M380.5,330.2h0M381.3,330.2h0M382.1,330.2h0M382.9,330.2h0M383.7,330.1h0M384.5,330.1h0M385.3,330.1h0M386.1,330.1h0M386.9,330.1h0M387.7,330.0h0M388.5,330.0h0M389.3,330.0h0M390.1,330.0h0M390.9,329.9h0M391.7,329.9h0M392.5,329.9h0M393.3,329.9h0M394.1,329.8h0M394.9,329.8h0M395.7,329.8h0M396.5,329.7h0M397.3,329.7h0M398.1,329.7h0M398.9,329.6h0M399.7,329.6h0M400.5,329.6h0M401.3,329.5h0M402.1,329.5h0M402.9,329.5h0M403.7,329.4h0M404.5,329.4h0M405.3,329.3h0M406.1,329.3h0M406.9,329.2h0M407.7,329.2h0M408.5,329.1h0M409.3,329.0h0M410.1,329.0h0M410.9,328.9h0M411.7,328.8h0M412.5,328.8h0M413.3,328.7h0M414.1,328.6h0M414.9,328.5h0M415.7,328.4h0M416.5,328.3h0M417.3,328.2h0M418.1,328.0h0M418.9,327.9h0M419.7,327.8h0M420.5,327.6h0M421.3,327.5h0M422.1,327.3h0M422.9,327.2h0M423.7,327.0h0M424.5,326.8h0M425.3,326.6h0M426.1,326.3h0M426.9,325.9h0M446.1,209.6h0M446.9,210.0h0M510.1,341.5h0M510.9,342.0h0M511.7,342.3h0M512.5,342.5h0M513.3,342.6h0M514.1,342.7h0M514.9,342.8h0M515.7,342.9h0M516.5,342.9h0M517.3,343.0h0M518.1,343.0h0M518.9,343.0h0M519.7,343.0h0M520.5,343.0h0M521.3,343.0h0M522.1,343.0h0M522.9,343.0h0M523.7,343.0h0M524.5,343.0h0M525.3,343.0h0M526.1,343.0h0M526.9,343.0h0M527.7,342.9h0M528.5,342.9h0M529.3,342.9h0M530.1,342.9h0M530.9,342.9h0M531.7,342.9h0M532.5,342.9h0M533.3,342.9h0M534.1,342.9h0M534.9,342.9h0M535.7,342.9h0M536.5,342.8h0M537.3,342.8h0M538.1,342.8h0M538.9,342.8h0M539.7,342.8h0M540.5,342.8h0M541.3,342.8h0M542.1,342.8h0M542.9,342.8h0M543.7,342.7h0M544.5,342.7h0M545.3,342.7h0M546.1,342.7h0M546.9,342.7h0M547.7,342.7h0M548.5,342.6h0M549.3,342.6h0M550.1,342.6h0M550.9,342.6h0M551.7,342.5h0M552.5,342.5h0M553.3,342.5h0M554.1,342.5h0M554.9,342.4h0M555.7,342.4h0M556.5,342.4h0M557.3,342.4h0M558.1,342.3h0M558.9,342.3h0M559.7,342.3h0M560.5,342.3h0M561.3,342.2h0M562.1,342.2h0M562.9,342.2h0M563.7,342.1h0M564.5,342.1h0M565.3,342.1h0M566.1,342.0h0M566.9,342.0h0M567.7,342.0h0M568.5,341.9h0M569.3,341.9h0M570.1,341.9h0M570.9,341.9h0M571.7,341.8h0M572.5,341.8h0M573.3,341.8h0M574.1,341.7h0M574.9,341.7h0M575.7,341.7h0M576.5,341.6h0M577.3,341.6h0M578.1,341.6h0M578.9,341.5h0M579.7,341.5h0M580.5,341.5h0M581.3,341.5h0M582.1,341.4h0M582.9,341.4h0M583.7,341.4h0M584.5,341.3h0M585.3,341.3h0M586.1,341.3h0M586.9,341.2h0M587.7,341.2h0M588.5,341.2h0M589.3,341.1h0M590.1,341.1h0M590.9,341.1h0M591.7,341.0h0M592.5,341.0h0M593.3,341.0h0M594.1,340.9h0M594.9,340.9h0M595.7,340.9h0M596.5,340.8h0M597.3,340.8h0M598.1,340.8h0M598.9,340.7h0M599.7,340.7h0M600.5,340.6h0M601.3,340.6h0M602.1,340.6h0M602.9,340.5h0M603.7,340.5h0M604.5,340.5h0M605.3,340.4h0M606.1,340.4h0M606.9,340.3h0M607.7,340.3h0M608.5,340.3h0M609.3,340.2h0M610.1,340.2h0M610.9,340.2h0M611.7,340.1h0M612.5,340.1h0M613.3,340.0h0M614.1,340.0h0M614.9,340.0h0M615.7,339.9h0" fill="none" stroke="#9aa84e" stroke-width="1.3" stroke-linecap="round" opacity="0.92"/>
<path d="M427.7,325.4h0M428.5,324.7h0M429.3,323.8h0M430.1,322.8h0M430.9,321.7h0M431.7,320.4h0M432.5,318.9h0M433.3,317.0h0M434.1,314.6h0M434.9,311.6h0M435.7,307.9h0M436.5,303.1h0M437.3,295.8h0M438.1,285.6h0M438.9,273.9h0M439.7,260.5h0M440.5,248.4h0M441.3,237.8h0M442.1,229.8h0M442.9,223.4h0M443.7,217.2h0M444.5,212.3h0M445.3,210.4h0M447.7,210.5h0M448.5,211.2h0M449.3,212.1h0M450.1,213.2h0M450.9,214.4h0M451.7,215.6h0M452.5,216.9h0M453.3,218.3h0M454.1,219.7h0M454.9,221.2h0M455.7,222.7h0M456.5,224.3h0M457.3,225.8h0M458.1,227.4h0M458.9,228.8h0M459.7,230.3h0M460.5,231.8h0M461.3,233.3h0M462.1,234.8h0M462.9,236.3h0M463.7,237.9h0M464.5,239.5h0M465.3,241.1h0M466.1,242.7h0M466.9,244.4h0M467.7,246.0h0M468.5,247.7h0M469.3,249.3h0M470.1,251.0h0M470.9,252.7h0M471.7,254.4h0M472.5,256.0h0M473.3,257.7h0M474.1,259.4h0M474.9,261.1h0M475.7,262.9h0M476.5,264.6h0M477.3,266.3h0M478.1,268.1h0M478.9,269.8h0M479.7,271.6h0M480.5,273.4h0M481.3,275.1h0M482.1,276.9h0M482.9,278.6h0M483.7,280.3h0M484.5,282.0h0M485.3,283.7h0M486.1,285.4h0M486.9,287.2h0M487.7,288.9h0M488.5,290.7h0M489.3,292.5h0M490.1,294.2h0M490.9,296.1h0M491.7,297.9h0M492.5,299.8h0M493.3,301.8h0M494.1,303.8h0M494.9,305.9h0M495.7,308.0h0M496.5,310.2h0M497.3,312.4h0M498.1,314.6h0M498.9,316.9h0M499.7,319.2h0M500.5,321.5h0M501.3,323.8h0M502.1,326.1h0M502.9,328.5h0M503.7,330.9h0M504.5,333.1h0M505.3,335.1h0M506.1,336.8h0M506.9,338.4h0M507.7,339.5h0M508.5,340.3h0M509.3,341.0h0" fill="none" stroke="#9aa84e" stroke-width="1.04" stroke-linecap="round" opacity="0.45"/>
<line x1="625" y1="231.9" x2="630.6" y2="231.9" stroke="#a9b6d2" stroke-width="1.0"/>
<text x="631.4" y="236.5" font-size="11.5" text-anchor="start" font-weight="normal" fill="#000" stroke="#000" stroke-width="0.15" textLength="55.7" lengthAdjust="spacingAndGlyphs" >Refinement 0</text>
<line x1="625" y1="267.9" x2="630.6" y2="267.9" stroke="#e08a98" stroke-width="1.0"/>
<text x="631.4" y="272.6" font-size="11.5" text-anchor="start" font-weight="normal" fill="#000" stroke="#000" stroke-width="0.15" textLength="55.7" lengthAdjust="spacingAndGlyphs" >Refinement 1</text>
<rect x="627.9" y="303.4" width="1.1" height="1.1" fill="#b8c6a0"/>
<text x="631.4" y="308.3" font-size="11.5" text-anchor="start" font-weight="normal" fill="#000" stroke="#000" stroke-width="0.15" textLength="55.7" lengthAdjust="spacingAndGlyphs" >Refinement 2</text>
<line x1="625" y1="340.4" x2="630.6" y2="340.4" stroke="#9c9cb4" stroke-width="1.0"/>
<text x="631.4" y="344.7" font-size="11.5" text-anchor="start" font-weight="normal" fill="#000" stroke="#000" stroke-width="0.15" textLength="70.9" lengthAdjust="spacingAndGlyphs" >AP with NEURON</text>
</svg></body></html>
